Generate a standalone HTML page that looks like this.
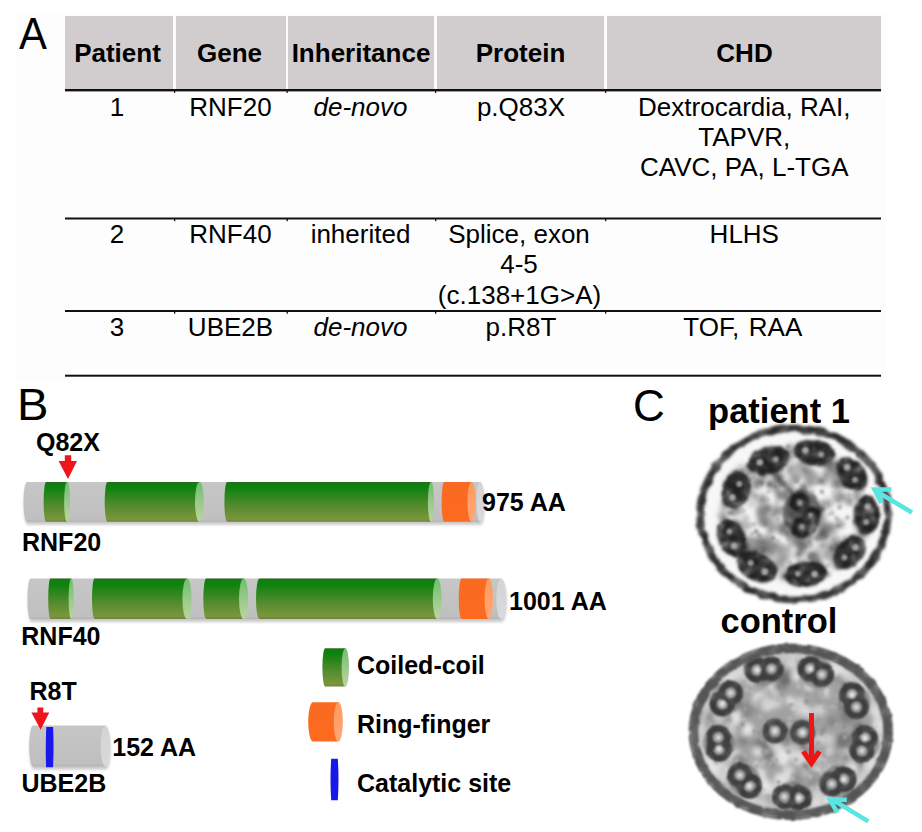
<!DOCTYPE html>
<html><head><meta charset="utf-8"><style>
html,body{margin:0;padding:0;background:#fff;}
body{width:922px;height:832px;overflow:hidden;position:relative;font-family:"Liberation Sans",sans-serif;}
svg{position:absolute;left:0;top:0;}
svg text{font-family:"Liberation Sans",sans-serif;fill:#000;}
.h{font-size:26px;font-weight:bold;text-anchor:middle;}
.t{font-size:26px;text-anchor:middle;}
.i{font-style:italic;}
.b{font-size:25px;font-weight:bold;}
.p{font-size:44px;}
.c{font-size:34.5px;font-weight:bold;text-anchor:middle;}
</style></head><body>
<svg width="922" height="832" viewBox="0 0 922 832">
<defs>
 <linearGradient id="gg" x1="0" y1="0" x2="0" y2="1">
  <stop offset="0" stop-color="#2a6a22"/><stop offset="0.06" stop-color="#0f7f10"/><stop offset="0.15" stop-color="#0e820e"/><stop offset="0.55" stop-color="#4d8a2c"/><stop offset="0.93" stop-color="#7a963a"/><stop offset="1" stop-color="#6c8443"/>
 </linearGradient>
 <linearGradient id="gc" x1="0" y1="0" x2="0" y2="1">
  <stop offset="0" stop-color="#6cc06a"/><stop offset="0.5" stop-color="#98c98c"/><stop offset="1" stop-color="#b9d79c"/>
 </linearGradient>
 <linearGradient id="gy" x1="0" y1="0" x2="0" y2="1">
  <stop offset="0" stop-color="#c6c6c7"/><stop offset="0.5" stop-color="#c3c3c4"/><stop offset="0.94" stop-color="#bfbfc0"/><stop offset="1" stop-color="#b4b4b5"/>
 </linearGradient>
 <linearGradient id="gyc" x1="0" y1="0" x2="0" y2="1">
  <stop offset="0" stop-color="#d4d4d6"/><stop offset="1" stop-color="#dadadc"/>
 </linearGradient>
 <linearGradient id="go" x1="0" y1="0" x2="0" y2="1">
  <stop offset="0" stop-color="#fb6a22"/><stop offset="1" stop-color="#fd6a20"/>
 </linearGradient>
 <linearGradient id="oc" x1="0" y1="0" x2="0" y2="1">
  <stop offset="0" stop-color="#ff9a5c"/><stop offset="1" stop-color="#ffa878"/>
 </linearGradient>
</defs>

<!-- ===== Panel A ===== -->
<rect x="16" y="13" width="870" height="368" fill="#fdfdfd"/>
<text class="p" x="18" y="49" style="font-size:44.5px" transform="translate(32.85 0) scale(0.94 1) translate(-32.85 0)">A</text>
<rect x="65" y="16" width="816" height="74" fill="#d1cdce"/>
<rect x="173" y="16" width="3" height="74" fill="#fbfbfb"/>
<rect x="286" y="16" width="2" height="74" fill="#fbfbfb"/>
<rect x="434" y="16" width="3" height="74" fill="#fbfbfb"/>
<rect x="604" y="16" width="3" height="74" fill="#fbfbfb"/>
<rect x="65" y="89" width="816" height="2.4" fill="#111"/>
<rect x="174" y="90" width="1.2" height="3" fill="#111"/>
<rect x="286.5" y="90" width="1.2" height="3" fill="#111"/>
<rect x="435" y="90" width="1.2" height="3" fill="#111"/>
<rect x="605" y="90" width="1.2" height="3" fill="#111"/>
<text class="h" x="117.5" y="61.5">Patient</text>
<text class="h" x="229.5" y="61.5">Gene</text>
<text class="h" x="361" y="61.5">Inheritance</text>
<text class="h" x="520.5" y="61.5">Protein</text>
<text class="h" x="744.5" y="61.5">CHD</text>

<text class="t" x="117" y="115.7">1</text>
<text class="t" x="230.5" y="115.7">RNF20</text>
<text class="t i" x="360.5" y="115.7">de-novo</text>
<text class="t" x="521" y="115.7">p.Q83X</text>
<text class="t" x="744.3" y="115.7">Dextrocardia, RAI,</text>
<text class="t" x="744.3" y="145.7">TAPVR,</text>
<text class="t" x="744.3" y="175.7">CAVC, PA, L-TGA</text>

<rect x="65" y="217.5" width="816" height="2" fill="#111"/><rect x="174" y="219" width="1.3" height="2.2" fill="#111"/><rect x="286.6" y="219" width="1.3" height="2.2" fill="#111"/><rect x="435" y="219" width="1.3" height="2.2" fill="#111"/><rect x="605" y="219" width="1.3" height="2.2" fill="#111"/>
<text class="t" x="117" y="243">2</text>
<text class="t" x="230.5" y="243">RNF40</text>
<text class="t" x="360.5" y="243">inherited</text>
<text class="t" x="519" y="243">Splice, exon</text>
<text class="t" x="519" y="273">4-5</text>
<text class="t" x="519.5" y="303.5">(c.138+1G&gt;A)</text>
<text class="t" x="744.3" y="243">HLHS</text>

<rect x="65" y="310" width="816" height="2" fill="#111"/><rect x="174" y="311.5" width="1.3" height="2.2" fill="#111"/><rect x="286.6" y="311.5" width="1.3" height="2.2" fill="#111"/><rect x="435" y="311.5" width="1.3" height="2.2" fill="#111"/><rect x="605" y="311.5" width="1.3" height="2.2" fill="#111"/>
<text class="t" x="117" y="335.5">3</text>
<text class="t" x="230.5" y="335.5">UBE2B</text>
<text class="t i" x="360.5" y="335.5">de-novo</text>
<text class="t" x="521" y="335.5">p.R8T</text>
<text class="t" x="683.3" y="335.5" style="text-anchor:start">TOF,</text><text class="t" x="748.8" y="335.5" style="text-anchor:start">RAA</text>

<rect x="65" y="374.7" width="816" height="2" fill="#111"/>

<!-- ===== Panel B ===== -->
<defs>
<filter id="shd" x="-10%" y="-50%" width="120%" height="200%"><feGaussianBlur stdDeviation="1.6"/></filter>
</defs>
<text class="p" x="18" y="420.3" style="font-size:44.5px" transform="translate(33.6 0) scale(1.06 1) translate(-33.6 0)">B</text>
<text class="b" x="36" y="451">Q82X</text>
<polygon points="64.8,455.3 71.2,455.3 71.2,461 77,461 68,479 58.6,461 64.8,461" fill="#f0141c"/>
<path d="M27,482 H480.2 A3.8,19.9 0 0 1 480.2,521.8 H27 A3.5,19.9 0 0 1 27,482 Z" fill="#000" opacity="0.22" filter="url(#shd)" transform="translate(0.5 3)"/>
<path d="M27,482 H480.2 V521.8 H27 A3.5,19.9 0 0 1 27,482 Z" fill="url(#gy)"/>
<ellipse cx="480.2" cy="501.9" rx="3.8" ry="19.9" fill="url(#gyc)"/>
<path d="M46.2,482 H67.1 V521.8 H46.2 A2.6,19.9 0 0 1 46.2,482 Z" fill="url(#gg)"/>
<ellipse cx="67.1" cy="501.9" rx="3" ry="19.9" fill="url(#gc)"/>
<path d="M107.5,482 H199.4 V521.8 H107.5 A2.8,19.9 0 0 1 107.5,482 Z" fill="url(#gg)"/>
<ellipse cx="199.4" cy="501.9" rx="4.4" ry="19.9" fill="url(#gc)"/>
<path d="M227.2,482 H431 V521.8 H227.2 A2.8,19.9 0 0 1 227.2,482 Z" fill="url(#gg)"/>
<ellipse cx="431" cy="501.9" rx="3.1" ry="19.9" fill="url(#gc)"/>
<path d="M444.3,482 H471.6 V521.8 H444.3 A2.7,19.9 0 0 1 444.3,482 Z" fill="url(#go)"/>
<ellipse cx="471.6" cy="501.9" rx="4.2" ry="19.9" fill="url(#oc)"/>
<text class="b" x="22" y="550.5">RNF20</text>
<text class="b" x="482" y="511">975 AA</text>
<path d="M30.5,578.5 H501.2 A4.9,20.2 0 0 1 501.2,618.9 H30.5 A3,20.2 0 0 1 30.5,578.5 Z" fill="#000" opacity="0.22" filter="url(#shd)" transform="translate(0.5 3)"/>
<path d="M30.5,578.5 H501.2 V618.9 H30.5 A3,20.2 0 0 1 30.5,578.5 Z" fill="url(#gy)"/>
<ellipse cx="501.2" cy="598.7" rx="4.9" ry="20.2" fill="url(#gyc)"/>
<path d="M50.5,578.5 H71.2 V618.9 H50.5 A2.3,20.2 0 0 1 50.5,578.5 Z" fill="url(#gg)"/>
<ellipse cx="71.2" cy="598.7" rx="2.6" ry="20.2" fill="url(#gc)"/>
<path d="M94.6,578.5 H187 V618.9 H94.6 A2.6,20.2 0 0 1 94.6,578.5 Z" fill="url(#gg)"/>
<ellipse cx="187" cy="598.7" rx="4.6" ry="20.2" fill="url(#gc)"/>
<path d="M206.3,578.5 H243.6 V618.9 H206.3 A3,20.2 0 0 1 206.3,578.5 Z" fill="url(#gg)"/>
<ellipse cx="243.6" cy="598.7" rx="4.6" ry="20.2" fill="url(#gc)"/>
<path d="M259.5,578.5 H437.2 V618.9 H259.5 A3.5,20.2 0 0 1 259.5,578.5 Z" fill="url(#gg)"/>
<ellipse cx="437.2" cy="598.7" rx="4.4" ry="20.2" fill="url(#gc)"/>
<path d="M461.6,578.5 H488.8 V618.9 H461.6 A2.9,20.2 0 0 1 461.6,578.5 Z" fill="url(#go)"/>
<ellipse cx="488.8" cy="598.7" rx="4.2" ry="20.2" fill="url(#oc)"/>
<text class="b" x="21.3" y="644.5">RNF40</text>
<text class="b" x="509" y="610">1001 AA</text>
<text class="b" x="29.5" y="700">R8T</text>
<path d="M33,725.5 H105.4 A4.6,20.45 0 0 1 105.4,766.4 H33 A3.8,20.45 0 0 1 33,725.5 Z" fill="#000" opacity="0.22" filter="url(#shd)" transform="translate(0.5 3)"/>
<path d="M33,725.5 H105.4 V766.4 H33 A3.8,20.45 0 0 1 33,725.5 Z" fill="url(#gy)"/>
<ellipse cx="105.4" cy="745.95" rx="4.6" ry="20.45" fill="url(#gyc)"/>
<path d="M46.3,726.9 Q45.3,747 46.1,767.3 H53 Q54,747 53.1,726.9 Z" fill="#1818ea"/>
<polygon points="37.4,707.4 43.3,707.4 43.3,712.5 49.3,712.5 40.6,729.8 31.4,712.5 37.4,712.5" fill="#f0141c"/>
<text class="b" x="112.3" y="756">152 AA</text>
<text class="b" x="21.5" y="791.5">UBE2B</text>
<path d="M325.2,648.2 H345.3 V686.5 H325.2 A2.8,19.15 0 0 1 325.2,648.2 Z" fill="url(#gg)"/>
<ellipse cx="345.3" cy="667.35" rx="3.7" ry="19.15" fill="url(#gc)"/>
<text class="b" x="357" y="673.5">Coiled-coil</text>
<path d="M313,702.2 H338.3 V741.4 H313 A4.8,19.6 0 0 1 313,702.2 Z" fill="url(#go)"/>
<ellipse cx="338.3" cy="721.8" rx="4.6" ry="19.6" fill="url(#oc)"/>
<text class="b" x="357" y="733">Ring-finger</text>
<path d="M331.2,758.7 Q329.8,779.5 331.2,800.2 H337.8 Q339.2,779.5 337.8,758.7 Z" fill="#1818ea"/>
<text class="b" x="357" y="791.5">Catalytic site</text>

<!-- ===== Panel C ===== -->
<text class="p" x="633" y="421">C</text>
<text class="c" x="779" y="422.6">patient 1</text>
<text class="c" x="779" y="633">control</text>

<!-- EM patient -->
<defs>
<clipPath id="clip1"><ellipse cx="794" cy="514" rx="92" ry="83.5"/></clipPath>
<clipPath id="clip2"><ellipse cx="790.8" cy="731.8" rx="96.5" ry="82.5"/></clipPath>
<filter id="bl1" x="-20%" y="-20%" width="140%" height="140%"><feGaussianBlur stdDeviation="1.3"/></filter>
<filter id="bl2" x="-20%" y="-20%" width="140%" height="140%"><feGaussianBlur stdDeviation="0.9"/></filter>
<filter id="bl3" x="-20%" y="-20%" width="140%" height="140%"><feGaussianBlur stdDeviation="3"/></filter>
<filter id="mo1" x="-10%" y="-10%" width="120%" height="120%"><feTurbulence type="fractalNoise" baseFrequency="0.12" numOctaves="2" seed="3" result="n"/><feDisplacementMap in="SourceGraphic" in2="n" scale="4" xChannelSelector="R" yChannelSelector="G" result="d"/><feColorMatrix in="n" type="matrix" values="0 0 0 0 0  0 0 0 0 0  0 0 0 0 0  0 0 1 0 0.4" result="na"/><feComposite in="d" in2="na" operator="in" result="m"/><feGaussianBlur in="m" stdDeviation="1.7"/></filter>
<filter id="mo2" x="-10%" y="-10%" width="120%" height="120%"><feTurbulence type="fractalNoise" baseFrequency="0.09" numOctaves="2" seed="8" result="n"/><feDisplacementMap in="SourceGraphic" in2="n" scale="6" xChannelSelector="R" yChannelSelector="G" result="d"/><feColorMatrix in="n" type="matrix" values="0 0 0 0 0  0 0 0 0 0  0 0 0 0 0  0 0 0.8 0 0.5" result="na"/><feComposite in="d" in2="na" operator="in" result="m"/><feGaussianBlur in="m" stdDeviation="1.4"/></filter>
<filter id="mo3" x="-10%" y="-10%" width="120%" height="120%"><feTurbulence type="fractalNoise" baseFrequency="0.12" numOctaves="2" seed="5" result="n"/><feDisplacementMap in="SourceGraphic" in2="n" scale="2.5" xChannelSelector="R" yChannelSelector="G" result="d"/><feColorMatrix in="n" type="matrix" values="0 0 0 0 0  0 0 0 0 0  0 0 0 0 0  0 0 0.9 0 0.5" result="na"/><feComposite in="d" in2="na" operator="in" result="m"/><feGaussianBlur in="m" stdDeviation="1.1"/></filter>
<filter id="mo4" x="-10%" y="-10%" width="120%" height="120%"><feTurbulence type="fractalNoise" baseFrequency="0.1" numOctaves="2" seed="12" result="n"/><feDisplacementMap in="SourceGraphic" in2="n" scale="3" xChannelSelector="R" yChannelSelector="G" result="d"/><feColorMatrix in="n" type="matrix" values="0 0 0 0 0  0 0 0 0 0  0 0 0 0 0  0 0 0.8 0 0.55" result="na"/><feComposite in="d" in2="na" operator="in" result="m"/><feGaussianBlur in="m" stdDeviation="1.3"/></filter>
<filter id="nz1" x="0" y="0" width="100%" height="100%"><feTurbulence type="fractalNoise" baseFrequency="0.075" numOctaves="3" seed="21"/><feColorMatrix type="matrix" values="0 0 0 0 0.2  0 0 0 0 0.2  0 0 0 0 0.2  3.2 0 0 0 -1.15"/><feGaussianBlur stdDeviation="1.2"/></filter>
<filter id="nz1b" x="0" y="0" width="100%" height="100%"><feTurbulence type="fractalNoise" baseFrequency="0.04" numOctaves="2" seed="5"/><feColorMatrix type="matrix" values="0 0 0 0 0.5  0 0 0 0 0.5  0 0 0 0 0.5  2.2 0 0 0 -0.9"/><feGaussianBlur stdDeviation="2"/></filter>
<filter id="nz2" x="0" y="0" width="100%" height="100%"><feTurbulence type="fractalNoise" baseFrequency="0.045" numOctaves="3" seed="13"/><feColorMatrix type="matrix" values="0 0 0 0 0.93  0 0 0 0 0.93  0 0 0 0 0.93  3.4 0 0 0 -1.4"/><feGaussianBlur stdDeviation="1.2"/></filter>
<filter id="nz3" x="0" y="0" width="100%" height="100%"><feTurbulence type="fractalNoise" baseFrequency="0.1" numOctaves="2" seed="3"/><feColorMatrix type="matrix" values="0 0 0 0 0.3  0 0 0 0 0.3  0 0 0 0 0.3  2.6 0 0 0 -1.1"/><feGaussianBlur stdDeviation="0.7"/></filter>
<filter id="blob2" x="-10%" y="-10%" width="120%" height="120%"><feGaussianBlur stdDeviation="1.5"/></filter>
<filter id="blob" x="-10%" y="-10%" width="120%" height="120%"><feGaussianBlur stdDeviation="2.4"/></filter>
</defs>
<g id="em1">
<ellipse cx="794" cy="514" rx="94" ry="85.5" fill="#f7f7f7"/>
<g clip-path="url(#clip1)">
<g filter="url(#blob)">
<circle cx="785.0" cy="524.2" r="4.3" fill="#737373" opacity="0.54"/>
<circle cx="789.4" cy="533.5" r="2.9" fill="#4f4f4f" opacity="0.37"/>
<circle cx="822.9" cy="533.8" r="5.0" fill="#4c4c4c" opacity="0.53"/>
<circle cx="846.3" cy="484.3" r="4.6" fill="#515151" opacity="0.47"/>
<circle cx="794.0" cy="541.8" r="5.1" fill="#727272" opacity="0.40"/>
<circle cx="828.8" cy="465.0" r="4.4" fill="#3e3e3e" opacity="0.57"/>
<circle cx="818.3" cy="561.6" r="3.8" fill="#5a5a5a" opacity="0.37"/>
<circle cx="787.4" cy="511.7" r="3.3" fill="#7f7f7f" opacity="0.43"/>
<circle cx="778.8" cy="494.1" r="4.2" fill="#6a6a6a" opacity="0.34"/>
<circle cx="851.0" cy="480.5" r="3.3" fill="#3a3a3a" opacity="0.40"/>
<circle cx="860.6" cy="538.3" r="2.7" fill="#444444" opacity="0.32"/>
<circle cx="814.7" cy="570.5" r="2.8" fill="#696969" opacity="0.31"/>
<circle cx="809.6" cy="470.1" r="4.0" fill="#676767" opacity="0.42"/>
<circle cx="808.0" cy="576.7" r="5.0" fill="#4f4f4f" opacity="0.37"/>
<circle cx="742.9" cy="532.9" r="3.1" fill="#505050" opacity="0.47"/>
<circle cx="804.1" cy="546.0" r="6.0" fill="#696969" opacity="0.46"/>
<circle cx="744.8" cy="549.0" r="4.2" fill="#585858" opacity="0.55"/>
<circle cx="792.3" cy="517.4" r="3.0" fill="#404040" opacity="0.42"/>
<circle cx="822.9" cy="533.8" r="3.6" fill="#414141" opacity="0.56"/>
<circle cx="750.6" cy="504.7" r="2.7" fill="#3f3f3f" opacity="0.36"/>
<circle cx="784.7" cy="485.1" r="4.8" fill="#7a7a7a" opacity="0.32"/>
<circle cx="819.6" cy="511.0" r="3.8" fill="#5f5f5f" opacity="0.58"/>
<circle cx="838.6" cy="548.8" r="3.9" fill="#636363" opacity="0.49"/>
<circle cx="778.4" cy="563.7" r="4.8" fill="#777777" opacity="0.47"/>
<circle cx="771.9" cy="528.1" r="2.8" fill="#414141" opacity="0.47"/>
<circle cx="809.2" cy="503.8" r="2.8" fill="#7d7d7d" opacity="0.51"/>
<circle cx="790.4" cy="467.9" r="4.5" fill="#464646" opacity="0.46"/>
<circle cx="827.5" cy="463.1" r="5.5" fill="#4d4d4d" opacity="0.38"/>
<circle cx="745.4" cy="497.7" r="3.3" fill="#585858" opacity="0.41"/>
<circle cx="809.6" cy="482.6" r="3.0" fill="#494949" opacity="0.39"/>
<circle cx="856.2" cy="493.9" r="4.5" fill="#7a7a7a" opacity="0.37"/>
<circle cx="807.3" cy="481.3" r="2.6" fill="#808080" opacity="0.32"/>
<circle cx="818.3" cy="504.8" r="5.1" fill="#7c7c7c" opacity="0.52"/>
<circle cx="737.5" cy="509.7" r="5.4" fill="#4e4e4e" opacity="0.51"/>
<circle cx="831.6" cy="466.8" r="6.2" fill="#6c6c6c" opacity="0.50"/>
<circle cx="724.4" cy="506.1" r="4.0" fill="#383838" opacity="0.45"/>
<circle cx="822.4" cy="463.5" r="3.4" fill="#474747" opacity="0.55"/>
<circle cx="800.9" cy="563.7" r="3.5" fill="#616161" opacity="0.50"/>
<circle cx="779.2" cy="475.6" r="3.4" fill="#3b3b3b" opacity="0.54"/>
<circle cx="800.2" cy="545.9" r="4.4" fill="#494949" opacity="0.58"/>
<circle cx="827.4" cy="503.8" r="5.5" fill="#434343" opacity="0.41"/>
<circle cx="805.0" cy="570.6" r="5.1" fill="#7f7f7f" opacity="0.44"/>
<circle cx="858.6" cy="524.3" r="5.2" fill="#5f5f5f" opacity="0.57"/>
<circle cx="863.6" cy="532.7" r="5.9" fill="#5e5e5e" opacity="0.57"/>
<circle cx="798.6" cy="526.5" r="4.1" fill="#515151" opacity="0.31"/>
<circle cx="776.0" cy="470.6" r="3.0" fill="#777777" opacity="0.41"/>
<circle cx="789.6" cy="482.7" r="4.2" fill="#505050" opacity="0.29"/>
<circle cx="748.9" cy="548.6" r="2.6" fill="#3a3a3a" opacity="0.33"/>
<circle cx="836.0" cy="470.3" r="2.9" fill="#777777" opacity="0.50"/>
<circle cx="723.1" cy="515.8" r="5.4" fill="#585858" opacity="0.49"/>
<circle cx="819.0" cy="569.6" r="4.7" fill="#4c4c4c" opacity="0.54"/>
<circle cx="800.4" cy="465.8" r="5.9" fill="#535353" opacity="0.46"/>
<circle cx="745.0" cy="552.7" r="4.1" fill="#595959" opacity="0.41"/>
<circle cx="832.5" cy="462.8" r="2.9" fill="#3a3a3a" opacity="0.45"/>
<circle cx="767.2" cy="568.9" r="3.0" fill="#666666" opacity="0.43"/>
<circle cx="803.7" cy="516.5" r="4.4" fill="#808080" opacity="0.34"/>
<circle cx="826.5" cy="527.6" r="6.3" fill="#494949" opacity="0.42"/>
<circle cx="843.8" cy="484.4" r="4.2" fill="#737373" opacity="0.39"/>
<circle cx="739.5" cy="492.3" r="5.9" fill="#3d3d3d" opacity="0.33"/>
<circle cx="785.3" cy="554.9" r="6.2" fill="#6b6b6b" opacity="0.46"/>
<circle cx="807.1" cy="461.2" r="5.7" fill="#636363" opacity="0.36"/>
<circle cx="844.2" cy="559.4" r="3.3" fill="#6b6b6b" opacity="0.34"/>
<circle cx="849.9" cy="480.1" r="2.5" fill="#444444" opacity="0.39"/>
<circle cx="820.1" cy="535.2" r="3.6" fill="#555555" opacity="0.57"/>
<circle cx="756.2" cy="465.4" r="4.8" fill="#6b6b6b" opacity="0.44"/>
<circle cx="820.7" cy="548.4" r="6.4" fill="#6a6a6a" opacity="0.29"/>
<circle cx="815.7" cy="554.8" r="4.3" fill="#585858" opacity="0.43"/>
<circle cx="843.1" cy="539.3" r="2.9" fill="#393939" opacity="0.36"/>
<circle cx="819.9" cy="566.9" r="4.7" fill="#414141" opacity="0.48"/>
<circle cx="801.9" cy="530.5" r="6.3" fill="#6e6e6e" opacity="0.41"/>
<circle cx="799.0" cy="530.7" r="4.6" fill="#666666" opacity="0.42"/>
<circle cx="824.8" cy="556.4" r="2.6" fill="#3b3b3b" opacity="0.35"/>
<circle cx="841.9" cy="495.2" r="2.7" fill="#6a6a6a" opacity="0.58"/>
<circle cx="745.8" cy="518.0" r="3.1" fill="#737373" opacity="0.57"/>
<circle cx="746.1" cy="549.3" r="5.0" fill="#3e3e3e" opacity="0.42"/>
<circle cx="799.3" cy="449.8" r="3.1" fill="#707070" opacity="0.41"/>
<circle cx="813.0" cy="537.9" r="4.0" fill="#6d6d6d" opacity="0.50"/>
<circle cx="790.4" cy="514.5" r="5.6" fill="#5f5f5f" opacity="0.47"/>
<circle cx="767.5" cy="474.9" r="5.3" fill="#808080" opacity="0.34"/>
<circle cx="752.4" cy="469.4" r="4.5" fill="#575757" opacity="0.48"/>
<circle cx="736.8" cy="545.3" r="2.5" fill="#3f3f3f" opacity="0.36"/>
<circle cx="741.8" cy="476.1" r="6.2" fill="#434343" opacity="0.33"/>
<circle cx="791.0" cy="489.1" r="3.9" fill="#636363" opacity="0.50"/>
<circle cx="817.3" cy="560.0" r="4.3" fill="#535353" opacity="0.50"/>
<circle cx="773.3" cy="454.3" r="5.1" fill="#4b4b4b" opacity="0.58"/>
<circle cx="761.2" cy="522.3" r="4.2" fill="#4f4f4f" opacity="0.39"/>
<circle cx="806.1" cy="511.4" r="3.7" fill="#737373" opacity="0.51"/>
<circle cx="757.1" cy="552.5" r="3.6" fill="#616161" opacity="0.32"/>
<circle cx="767.3" cy="552.6" r="6.1" fill="#666666" opacity="0.38"/>
<circle cx="782.9" cy="530.2" r="4.3" fill="#5b5b5b" opacity="0.52"/>
<circle cx="757.3" cy="482.8" r="6.4" fill="#6b6b6b" opacity="0.50"/>
<circle cx="827.3" cy="528.5" r="5.5" fill="#505050" opacity="0.39"/>
<circle cx="773.4" cy="455.0" r="3.2" fill="#808080" opacity="0.31"/>
<circle cx="785.4" cy="574.7" r="3.4" fill="#3a3a3a" opacity="0.30"/>
<circle cx="779.5" cy="528.0" r="5.7" fill="#5f5f5f" opacity="0.31"/>
<circle cx="819.2" cy="453.1" r="3.5" fill="#6e6e6e" opacity="0.35"/>
<circle cx="774.1" cy="486.3" r="5.2" fill="#626262" opacity="0.43"/>
<circle cx="801.0" cy="551.8" r="4.1" fill="#3d3d3d" opacity="0.53"/>
<circle cx="820.4" cy="518.1" r="5.7" fill="#393939" opacity="0.41"/>
<circle cx="779.0" cy="453.5" r="6.5" fill="#4c4c4c" opacity="0.39"/>
<circle cx="779.9" cy="478.4" r="4.4" fill="#3f3f3f" opacity="0.50"/>
<circle cx="790.4" cy="565.4" r="2.9" fill="#606060" opacity="0.34"/>
<circle cx="740.9" cy="468.8" r="4.9" fill="#747474" opacity="0.35"/>
<circle cx="734.8" cy="476.6" r="6.1" fill="#4e4e4e" opacity="0.56"/>
<circle cx="803.5" cy="574.4" r="6.0" fill="#767676" opacity="0.55"/>
<circle cx="764.3" cy="522.1" r="4.4" fill="#434343" opacity="0.35"/>
<circle cx="797.0" cy="475.4" r="5.1" fill="#3f3f3f" opacity="0.35"/>
<circle cx="769.9" cy="564.7" r="4.9" fill="#6d6d6d" opacity="0.33"/>
<circle cx="729.5" cy="483.5" r="6.1" fill="#595959" opacity="0.52"/>
<circle cx="816.5" cy="516.7" r="3.1" fill="#3e3e3e" opacity="0.51"/>
<circle cx="790.3" cy="508.6" r="5.9" fill="#7d7d7d" opacity="0.37"/>
<circle cx="848.4" cy="499.8" r="5.6" fill="#434343" opacity="0.41"/>
<circle cx="776.2" cy="523.6" r="5.2" fill="#737373" opacity="0.30"/>
<circle cx="825.5" cy="544.1" r="5.1" fill="#474747" opacity="0.28"/>
<circle cx="770.9" cy="549.9" r="3.7" fill="#565656" opacity="0.31"/>
<circle cx="841.9" cy="523.5" r="3.5" fill="#434343" opacity="0.34"/>
<circle cx="837.5" cy="484.8" r="4.8" fill="#5b5b5b" opacity="0.50"/>
<circle cx="762.4" cy="569.9" r="2.9" fill="#434343" opacity="0.47"/>
<circle cx="781.6" cy="560.4" r="6.2" fill="#636363" opacity="0.41"/>
<circle cx="796.2" cy="539.2" r="5.8" fill="#4a4a4a" opacity="0.40"/>
<circle cx="762.3" cy="499.0" r="5.4" fill="#393939" opacity="0.46"/>
<circle cx="759.7" cy="563.4" r="5.1" fill="#575757" opacity="0.46"/>
<circle cx="764.3" cy="539.8" r="4.7" fill="#454545" opacity="0.34"/>
<circle cx="762.6" cy="478.7" r="4.9" fill="#454545" opacity="0.33"/>
<circle cx="803.1" cy="488.8" r="4.6" fill="#787878" opacity="0.45"/>
<circle cx="789.8" cy="499.9" r="3.8" fill="#626262" opacity="0.56"/>
<circle cx="767.9" cy="507.7" r="4.3" fill="#474747" opacity="0.50"/>
<circle cx="744.9" cy="525.9" r="4.7" fill="#7d7d7d" opacity="0.45"/>
<circle cx="855.0" cy="477.8" r="3.5" fill="#666666" opacity="0.45"/>
<circle cx="823.8" cy="481.1" r="5.0" fill="#686868" opacity="0.47"/>
<circle cx="799.2" cy="448.7" r="3.2" fill="#6b6b6b" opacity="0.44"/>
<circle cx="749.6" cy="525.6" r="2.7" fill="#626262" opacity="0.52"/>
<circle cx="835.7" cy="563.2" r="6.3" fill="#6b6b6b" opacity="0.46"/>
<circle cx="788.3" cy="498.9" r="5.5" fill="#808080" opacity="0.51"/>
<circle cx="776.9" cy="502.7" r="3.0" fill="#808080" opacity="0.56"/>
<circle cx="762.1" cy="517.5" r="6.1" fill="#6d6d6d" opacity="0.38"/>
<circle cx="812.3" cy="557.1" r="6.0" fill="#5f5f5f" opacity="0.54"/>
<circle cx="802.5" cy="540.8" r="6.0" fill="#565656" opacity="0.58"/>
<circle cx="769.3" cy="521.9" r="5.7" fill="#808080" opacity="0.35"/>
<circle cx="840.4" cy="525.4" r="2.9" fill="#414141" opacity="0.52"/>
<circle cx="723.3" cy="520.4" r="2.5" fill="#727272" opacity="0.35"/>
<circle cx="756.3" cy="484.0" r="4.3" fill="#404040" opacity="0.42"/>
<circle cx="799.7" cy="452.7" r="2.7" fill="#555555" opacity="0.29"/>
<circle cx="738.8" cy="479.0" r="3.3" fill="#3f3f3f" opacity="0.53"/>
<circle cx="766.6" cy="509.3" r="5.0" fill="#4e4e4e" opacity="0.49"/>
<circle cx="805.2" cy="519.7" r="3.3" fill="#565656" opacity="0.54"/>
<circle cx="836.4" cy="482.0" r="6.0" fill="#5b5b5b" opacity="0.49"/>
<circle cx="757.7" cy="550.0" r="3.6" fill="#515151" opacity="0.50"/>
<circle cx="794.3" cy="479.0" r="4.0" fill="#5a5a5a" opacity="0.48"/>
<circle cx="743.1" cy="480.0" r="5.2" fill="#4f4f4f" opacity="0.36"/>
<circle cx="799.3" cy="519.3" r="2.5" fill="#3d3d3d" opacity="0.46"/>
<circle cx="801.0" cy="500.9" r="2.8" fill="#808080" opacity="0.37"/>
<circle cx="842.1" cy="470.5" r="5.4" fill="#5b5b5b" opacity="0.29"/>
<circle cx="760.3" cy="511.2" r="4.6" fill="#3c3c3c" opacity="0.43"/>
<circle cx="731.1" cy="532.5" r="5.2" fill="#565656" opacity="0.44"/>
<circle cx="748.2" cy="551.0" r="3.5" fill="#565656" opacity="0.44"/>
<circle cx="860.3" cy="531.7" r="2.6" fill="#595959" opacity="0.46"/>
<circle cx="834.4" cy="526.4" r="3.8" fill="#4f4f4f" opacity="0.46"/>
<circle cx="814.4" cy="566.4" r="4.3" fill="#787878" opacity="0.36"/>
<circle cx="802.1" cy="563.9" r="5.0" fill="#565656" opacity="0.30"/>
<circle cx="780.0" cy="547.5" r="5.6" fill="#7b7b7b" opacity="0.51"/>
<circle cx="793.7" cy="539.7" r="3.2" fill="#797979" opacity="0.36"/>
<circle cx="730.0" cy="546.6" r="2.7" fill="#727272" opacity="0.40"/>
<circle cx="768.5" cy="465.5" r="3.0" fill="#3d3d3d" opacity="0.51"/>
<circle cx="812.9" cy="451.5" r="4.6" fill="#727272" opacity="0.58"/>
<circle cx="804.5" cy="509.2" r="6.4" fill="#414141" opacity="0.48"/>
<circle cx="815.1" cy="479.1" r="4.7" fill="#474747" opacity="0.35"/>
<circle cx="768.4" cy="486.1" r="2.7" fill="#535353" opacity="0.40"/>
<circle cx="764.5" cy="547.3" r="4.4" fill="#4e4e4e" opacity="0.40"/>
<circle cx="858.5" cy="493.7" r="3.4" fill="#3e3e3e" opacity="0.38"/>
<circle cx="734.5" cy="522.5" r="4.4" fill="#4c4c4c" opacity="0.40"/>
<circle cx="811.7" cy="558.4" r="4.3" fill="#747474" opacity="0.58"/>
<circle cx="738.5" cy="494.0" r="2.7" fill="#414141" opacity="0.36"/>
<circle cx="797.6" cy="555.3" r="4.1" fill="#797979" opacity="0.56"/>
<circle cx="834.5" cy="474.4" r="2.7" fill="#666666" opacity="0.50"/>
<circle cx="857.7" cy="505.4" r="3.8" fill="#686868" opacity="0.51"/>
<circle cx="774.1" cy="469.2" r="3.3" fill="#3d3d3d" opacity="0.43"/>
<circle cx="777.2" cy="510.3" r="4.6" fill="#494949" opacity="0.44"/>
<circle cx="759.0" cy="505.7" r="3.1" fill="#686868" opacity="0.34"/>
<circle cx="752.7" cy="550.4" r="3.0" fill="#6b6b6b" opacity="0.44"/>
<circle cx="769.6" cy="533.0" r="2.7" fill="#494949" opacity="0.29"/>
<circle cx="818.5" cy="525.3" r="5.1" fill="#5e5e5e" opacity="0.30"/>
<circle cx="860.4" cy="523.9" r="5.2" fill="#656565" opacity="0.57"/>
<circle cx="780.4" cy="495.6" r="4.5" fill="#3f3f3f" opacity="0.56"/>
<circle cx="753.5" cy="548.8" r="3.1" fill="#545454" opacity="0.40"/>
<circle cx="789.3" cy="457.0" r="4.6" fill="#565656" opacity="0.50"/>
<circle cx="789.9" cy="472.4" r="3.7" fill="#7e7e7e" opacity="0.55"/>
<circle cx="751.1" cy="493.0" r="4.4" fill="#5e5e5e" opacity="0.38"/>
<circle cx="806.4" cy="473.3" r="5.1" fill="#4f4f4f" opacity="0.40"/>
<circle cx="772.4" cy="566.0" r="3.6" fill="#787878" opacity="0.43"/>
<circle cx="813.8" cy="474.6" r="5.2" fill="#595959" opacity="0.35"/>
<circle cx="774.1" cy="469.4" r="5.9" fill="#777777" opacity="0.51"/>
<circle cx="849.8" cy="473.7" r="6.0" fill="#454545" opacity="0.37"/>
<circle cx="834.6" cy="547.4" r="6.4" fill="#4c4c4c" opacity="0.53"/>
<circle cx="730.0" cy="534.8" r="5.7" fill="#767676" opacity="0.37"/>
<circle cx="778.0" cy="491.2" r="4.5" fill="#7c7c7c" opacity="0.47"/>
<circle cx="768.1" cy="549.3" r="5.5" fill="#797979" opacity="0.54"/>
<circle cx="859.6" cy="516.1" r="2.7" fill="#757575" opacity="0.47"/>
<circle cx="777.6" cy="510.9" r="3.5" fill="#646464" opacity="0.43"/>
<circle cx="747.3" cy="550.9" r="3.2" fill="#616161" opacity="0.54"/>
<circle cx="738.5" cy="524.9" r="4.8" fill="#484848" opacity="0.41"/>
<circle cx="832.9" cy="535.0" r="5.7" fill="#5a5a5a" opacity="0.32"/>
<circle cx="770.9" cy="543.0" r="5.1" fill="#555555" opacity="0.57"/>
<circle cx="788.7" cy="547.1" r="3.6" fill="#494949" opacity="0.36"/>
<circle cx="747.4" cy="542.3" r="6.2" fill="#696969" opacity="0.58"/>
<circle cx="753.8" cy="553.5" r="4.1" fill="#474747" opacity="0.55"/>
<circle cx="782.5" cy="577.2" r="3.4" fill="#5c5c5c" opacity="0.50"/>
<circle cx="776.7" cy="452.8" r="5.2" fill="#696969" opacity="0.34"/>
<circle cx="783.1" cy="571.1" r="6.2" fill="#7f7f7f" opacity="0.36"/>
<circle cx="791.8" cy="449.1" r="6.0" fill="#616161" opacity="0.36"/>
<circle cx="806.9" cy="475.3" r="3.6" fill="#6b6b6b" opacity="0.35"/>
<circle cx="790.7" cy="491.1" r="4.7" fill="#595959" opacity="0.33"/>
<circle cx="766.1" cy="524.2" r="2.7" fill="#7f7f7f" opacity="0.45"/>
<circle cx="823.5" cy="535.0" r="3.3" fill="#5b5b5b" opacity="0.37"/>
<circle cx="826.9" cy="474.8" r="5.5" fill="#3b3b3b" opacity="0.37"/>
<circle cx="838.3" cy="496.8" r="6.2" fill="#444444" opacity="0.42"/>
<circle cx="857.9" cy="498.4" r="2.5" fill="#3b3b3b" opacity="0.32"/>
<circle cx="760.8" cy="552.4" r="5.1" fill="#787878" opacity="0.52"/>
<circle cx="768.6" cy="537.6" r="3.7" fill="#656565" opacity="0.30"/>
<circle cx="822.8" cy="530.1" r="3.8" fill="#595959" opacity="0.50"/>
<circle cx="739.7" cy="555.6" r="3.7" fill="#7d7d7d" opacity="0.34"/>
<circle cx="765.3" cy="455.1" r="3.9" fill="#676767" opacity="0.41"/>
<circle cx="775.8" cy="483.5" r="5.9" fill="#7c7c7c" opacity="0.51"/>
<circle cx="808.8" cy="483.5" r="6.4" fill="#747474" opacity="0.35"/>
<circle cx="776.7" cy="549.2" r="5.8" fill="#4e4e4e" opacity="0.30"/>
<circle cx="837.3" cy="541.8" r="3.3" fill="#3f3f3f" opacity="0.46"/>
<circle cx="818.2" cy="514.8" r="6.2" fill="#808080" opacity="0.32"/>
<circle cx="838.9" cy="555.7" r="5.2" fill="#6f6f6f" opacity="0.41"/>
<circle cx="772.3" cy="467.8" r="4.8" fill="#7d7d7d" opacity="0.43"/>
<circle cx="784.0" cy="530.0" r="6.2" fill="#3e3e3e" opacity="0.33"/>
<circle cx="838.7" cy="482.0" r="6.5" fill="#747474" opacity="0.40"/>
<circle cx="833.8" cy="471.4" r="4.3" fill="#646464" opacity="0.44"/>
<circle cx="752.6" cy="538.6" r="2.9" fill="#414141" opacity="0.41"/>
<circle cx="733.6" cy="485.6" r="6.3" fill="#646464" opacity="0.35"/>
<circle cx="754.2" cy="499.6" r="2.6" fill="#696969" opacity="0.48"/>
<circle cx="787.5" cy="512.1" r="6.5" fill="#434343" opacity="0.34"/>
<circle cx="836.8" cy="462.2" r="4.0" fill="#6f6f6f" opacity="0.52"/>
<circle cx="752.3" cy="472.7" r="4.9" fill="#646464" opacity="0.39"/>
<circle cx="830.0" cy="554.4" r="6.0" fill="#666666" opacity="0.51"/>
<circle cx="750.0" cy="492.6" r="3.6" fill="#6c6c6c" opacity="0.32"/>
<circle cx="796.6" cy="500.0" r="4.8" fill="#777777" opacity="0.37"/>
<circle cx="772.9" cy="555.6" r="4.3" fill="#545454" opacity="0.30"/>
<circle cx="778.8" cy="476.6" r="5.1" fill="#707070" opacity="0.36"/>
<circle cx="770.5" cy="530.0" r="4.1" fill="#585858" opacity="0.36"/>
<circle cx="825.6" cy="455.1" r="3.9" fill="#414141" opacity="0.42"/>
<circle cx="759.4" cy="543.2" r="6.4" fill="#3f3f3f" opacity="0.57"/>
<circle cx="855.8" cy="539.6" r="6.5" fill="#464646" opacity="0.30"/>
<circle cx="786.9" cy="497.1" r="4.6" fill="#535353" opacity="0.46"/>
<circle cx="793.5" cy="570.5" r="4.1" fill="#797979" opacity="0.50"/>
<circle cx="822.0" cy="535.0" r="5.2" fill="#585858" opacity="0.57"/>
<circle cx="789.1" cy="579.7" r="4.4" fill="#6f6f6f" opacity="0.28"/>
<circle cx="766.0" cy="520.1" r="6.4" fill="#7c7c7c" opacity="0.51"/>
<circle cx="744.7" cy="541.8" r="4.5" fill="#797979" opacity="0.37"/>
<circle cx="846.2" cy="470.7" r="4.4" fill="#6c6c6c" opacity="0.58"/>
<circle cx="810.7" cy="457.6" r="4.3" fill="#454545" opacity="0.54"/>
<circle cx="798.7" cy="498.0" r="4.2" fill="#474747" opacity="0.28"/>
<circle cx="838.1" cy="550.4" r="3.7" fill="#4c4c4c" opacity="0.47"/>
<circle cx="776.1" cy="512.9" r="5.1" fill="#7d7d7d" opacity="0.53"/>
<circle cx="761.8" cy="512.1" r="6.3" fill="#7f7f7f" opacity="0.45"/>
<circle cx="774.2" cy="479.7" r="3.4" fill="#595959" opacity="0.31"/>
</g>
<g filter="url(#blob2)">
<circle cx="848.8" cy="494.3" r="2.0" fill="#838383" opacity="0.44"/>
<circle cx="802.9" cy="496.9" r="2.4" fill="#4c4c4c" opacity="0.51"/>
<circle cx="799.0" cy="553.9" r="1.9" fill="#5f5f5f" opacity="0.59"/>
<circle cx="812.4" cy="491.6" r="1.6" fill="#565656" opacity="0.53"/>
<circle cx="764.8" cy="574.8" r="1.7" fill="#4b4b4b" opacity="0.38"/>
<circle cx="849.6" cy="501.3" r="1.9" fill="#5f5f5f" opacity="0.39"/>
<circle cx="761.7" cy="482.8" r="2.6" fill="#434343" opacity="0.49"/>
<circle cx="838.5" cy="500.0" r="2.3" fill="#868686" opacity="0.57"/>
<circle cx="827.3" cy="565.5" r="1.8" fill="#686868" opacity="0.52"/>
<circle cx="856.8" cy="542.4" r="2.5" fill="#767676" opacity="0.51"/>
<circle cx="774.7" cy="546.6" r="2.2" fill="#838383" opacity="0.58"/>
<circle cx="739.7" cy="499.4" r="1.5" fill="#747474" opacity="0.58"/>
<circle cx="832.1" cy="513.0" r="2.4" fill="#676767" opacity="0.42"/>
<circle cx="810.1" cy="463.1" r="2.7" fill="#5c5c5c" opacity="0.50"/>
<circle cx="770.9" cy="565.8" r="1.9" fill="#878787" opacity="0.47"/>
<circle cx="858.4" cy="489.8" r="1.5" fill="#7a7a7a" opacity="0.51"/>
<circle cx="792.0" cy="536.6" r="2.5" fill="#5c5c5c" opacity="0.47"/>
<circle cx="855.1" cy="493.1" r="1.6" fill="#8b8b8b" opacity="0.57"/>
<circle cx="777.8" cy="519.3" r="2.1" fill="#616161" opacity="0.37"/>
<circle cx="757.6" cy="573.4" r="3.0" fill="#343434" opacity="0.41"/>
<circle cx="730.0" cy="512.3" r="1.5" fill="#6e6e6e" opacity="0.59"/>
<circle cx="800.6" cy="532.8" r="1.5" fill="#3f3f3f" opacity="0.36"/>
<circle cx="769.3" cy="484.0" r="2.9" fill="#3d3d3d" opacity="0.52"/>
<circle cx="836.7" cy="473.8" r="1.8" fill="#4f4f4f" opacity="0.35"/>
<circle cx="753.9" cy="524.4" r="2.1" fill="#515151" opacity="0.38"/>
<circle cx="753.6" cy="476.0" r="1.5" fill="#717171" opacity="0.42"/>
<circle cx="854.5" cy="521.6" r="2.3" fill="#404040" opacity="0.46"/>
<circle cx="838.0" cy="519.9" r="2.5" fill="#848484" opacity="0.48"/>
<circle cx="820.0" cy="480.9" r="2.9" fill="#666666" opacity="0.41"/>
<circle cx="848.0" cy="468.4" r="2.4" fill="#696969" opacity="0.40"/>
<circle cx="740.6" cy="538.0" r="2.2" fill="#525252" opacity="0.40"/>
<circle cx="806.3" cy="449.0" r="1.8" fill="#5f5f5f" opacity="0.56"/>
<circle cx="847.5" cy="517.6" r="2.0" fill="#393939" opacity="0.50"/>
<circle cx="748.1" cy="466.0" r="2.9" fill="#525252" opacity="0.59"/>
<circle cx="811.0" cy="545.8" r="2.8" fill="#7e7e7e" opacity="0.39"/>
<circle cx="777.9" cy="454.0" r="2.4" fill="#474747" opacity="0.46"/>
<circle cx="809.1" cy="558.0" r="1.2" fill="#3a3a3a" opacity="0.32"/>
<circle cx="856.7" cy="498.2" r="1.6" fill="#5a5a5a" opacity="0.42"/>
<circle cx="835.9" cy="517.6" r="2.0" fill="#5d5d5d" opacity="0.37"/>
<circle cx="790.1" cy="562.5" r="1.5" fill="#5a5a5a" opacity="0.50"/>
<circle cx="814.7" cy="530.3" r="1.7" fill="#797979" opacity="0.56"/>
<circle cx="756.7" cy="484.9" r="1.6" fill="#8c8c8c" opacity="0.31"/>
<circle cx="828.7" cy="514.6" r="1.6" fill="#686868" opacity="0.42"/>
<circle cx="847.1" cy="486.3" r="1.9" fill="#4a4a4a" opacity="0.39"/>
<circle cx="811.5" cy="555.3" r="3.0" fill="#6c6c6c" opacity="0.57"/>
<circle cx="730.1" cy="512.8" r="2.9" fill="#4c4c4c" opacity="0.40"/>
<circle cx="785.3" cy="492.2" r="2.9" fill="#3f3f3f" opacity="0.34"/>
<circle cx="836.4" cy="544.2" r="1.8" fill="#3f3f3f" opacity="0.35"/>
<circle cx="723.1" cy="518.6" r="2.7" fill="#757575" opacity="0.43"/>
<circle cx="851.1" cy="473.3" r="1.3" fill="#3b3b3b" opacity="0.37"/>
<circle cx="794.7" cy="455.9" r="2.3" fill="#5a5a5a" opacity="0.33"/>
<circle cx="790.9" cy="581.2" r="2.0" fill="#7c7c7c" opacity="0.48"/>
<circle cx="859.0" cy="508.0" r="1.5" fill="#484848" opacity="0.44"/>
<circle cx="827.6" cy="503.6" r="1.9" fill="#7a7a7a" opacity="0.32"/>
<circle cx="838.4" cy="464.7" r="1.2" fill="#323232" opacity="0.43"/>
<circle cx="764.3" cy="456.9" r="1.8" fill="#353535" opacity="0.55"/>
<circle cx="805.6" cy="546.1" r="2.3" fill="#505050" opacity="0.40"/>
<circle cx="809.2" cy="499.8" r="2.3" fill="#757575" opacity="0.38"/>
<circle cx="827.4" cy="534.8" r="1.5" fill="#848484" opacity="0.45"/>
<circle cx="732.1" cy="552.2" r="2.2" fill="#4e4e4e" opacity="0.42"/>
<circle cx="832.0" cy="486.6" r="1.4" fill="#818181" opacity="0.51"/>
<circle cx="765.3" cy="524.1" r="2.5" fill="#6f6f6f" opacity="0.54"/>
<circle cx="822.3" cy="545.7" r="2.1" fill="#848484" opacity="0.38"/>
<circle cx="808.0" cy="536.6" r="1.3" fill="#6b6b6b" opacity="0.40"/>
<circle cx="809.6" cy="496.7" r="1.7" fill="#353535" opacity="0.57"/>
<circle cx="794.7" cy="501.4" r="1.3" fill="#777777" opacity="0.32"/>
<circle cx="759.4" cy="542.3" r="1.8" fill="#707070" opacity="0.36"/>
<circle cx="849.9" cy="550.2" r="2.6" fill="#565656" opacity="0.35"/>
<circle cx="853.2" cy="480.4" r="1.3" fill="#4f4f4f" opacity="0.54"/>
<circle cx="788.5" cy="538.6" r="2.8" fill="#868686" opacity="0.58"/>
<circle cx="758.4" cy="460.3" r="2.6" fill="#888888" opacity="0.38"/>
<circle cx="833.1" cy="539.5" r="2.5" fill="#8f8f8f" opacity="0.32"/>
<circle cx="820.2" cy="512.6" r="2.5" fill="#616161" opacity="0.31"/>
<circle cx="866.1" cy="514.0" r="1.6" fill="#4d4d4d" opacity="0.49"/>
<circle cx="781.1" cy="508.3" r="1.5" fill="#888888" opacity="0.49"/>
<circle cx="762.7" cy="476.3" r="3.0" fill="#727272" opacity="0.32"/>
<circle cx="798.9" cy="477.8" r="1.9" fill="#7a7a7a" opacity="0.43"/>
<circle cx="774.9" cy="486.6" r="1.7" fill="#5d5d5d" opacity="0.56"/>
<circle cx="861.1" cy="519.4" r="1.9" fill="#4b4b4b" opacity="0.37"/>
<circle cx="722.9" cy="502.5" r="1.9" fill="#878787" opacity="0.49"/>
<circle cx="810.2" cy="500.3" r="2.1" fill="#313131" opacity="0.36"/>
<circle cx="728.3" cy="522.8" r="2.6" fill="#525252" opacity="0.48"/>
<circle cx="736.4" cy="471.7" r="2.2" fill="#373737" opacity="0.30"/>
<circle cx="787.4" cy="533.7" r="3.0" fill="#404040" opacity="0.45"/>
<circle cx="847.5" cy="470.4" r="1.6" fill="#838383" opacity="0.56"/>
<circle cx="806.0" cy="470.4" r="2.1" fill="#797979" opacity="0.31"/>
<circle cx="788.1" cy="446.6" r="2.7" fill="#4f4f4f" opacity="0.45"/>
<circle cx="810.5" cy="482.5" r="1.4" fill="#818181" opacity="0.39"/>
<circle cx="795.7" cy="498.7" r="2.8" fill="#636363" opacity="0.36"/>
<circle cx="750.3" cy="463.9" r="2.0" fill="#848484" opacity="0.44"/>
<circle cx="759.3" cy="535.2" r="2.8" fill="#646464" opacity="0.49"/>
<circle cx="817.6" cy="522.6" r="1.9" fill="#848484" opacity="0.57"/>
<circle cx="775.5" cy="543.3" r="1.6" fill="#8e8e8e" opacity="0.37"/>
<circle cx="813.6" cy="530.8" r="2.0" fill="#858585" opacity="0.36"/>
<circle cx="756.1" cy="531.2" r="2.2" fill="#3a3a3a" opacity="0.59"/>
<circle cx="764.2" cy="550.2" r="2.7" fill="#323232" opacity="0.40"/>
<circle cx="771.4" cy="576.2" r="3.0" fill="#565656" opacity="0.36"/>
<circle cx="809.6" cy="568.9" r="1.9" fill="#838383" opacity="0.48"/>
<circle cx="833.9" cy="558.8" r="1.9" fill="#8f8f8f" opacity="0.44"/>
<circle cx="748.2" cy="545.0" r="2.2" fill="#646464" opacity="0.60"/>
<circle cx="761.1" cy="552.7" r="1.7" fill="#323232" opacity="0.47"/>
<circle cx="799.3" cy="513.2" r="2.9" fill="#454545" opacity="0.54"/>
<circle cx="793.0" cy="511.8" r="2.4" fill="#656565" opacity="0.33"/>
<circle cx="804.8" cy="503.7" r="2.9" fill="#323232" opacity="0.41"/>
<circle cx="756.5" cy="546.8" r="1.9" fill="#888888" opacity="0.36"/>
<circle cx="808.7" cy="516.3" r="1.9" fill="#757575" opacity="0.50"/>
<circle cx="727.9" cy="481.7" r="1.6" fill="#7e7e7e" opacity="0.35"/>
<circle cx="849.3" cy="554.9" r="1.2" fill="#515151" opacity="0.32"/>
<circle cx="809.5" cy="542.3" r="2.7" fill="#555555" opacity="0.36"/>
<circle cx="832.2" cy="548.1" r="2.7" fill="#5b5b5b" opacity="0.57"/>
<circle cx="848.2" cy="476.6" r="3.0" fill="#707070" opacity="0.37"/>
<circle cx="741.9" cy="534.5" r="2.4" fill="#434343" opacity="0.58"/>
<circle cx="811.4" cy="559.1" r="1.8" fill="#6c6c6c" opacity="0.51"/>
<circle cx="768.5" cy="467.6" r="2.4" fill="#8b8b8b" opacity="0.56"/>
<circle cx="840.2" cy="559.6" r="2.2" fill="#878787" opacity="0.47"/>
<circle cx="812.8" cy="576.0" r="2.6" fill="#383838" opacity="0.43"/>
<circle cx="728.7" cy="544.5" r="2.0" fill="#363636" opacity="0.39"/>
<circle cx="805.5" cy="489.4" r="1.2" fill="#5e5e5e" opacity="0.58"/>
<circle cx="768.5" cy="499.7" r="1.7" fill="#464646" opacity="0.33"/>
<circle cx="859.1" cy="508.7" r="1.5" fill="#717171" opacity="0.46"/>
<circle cx="850.3" cy="504.5" r="2.1" fill="#8b8b8b" opacity="0.42"/>
<circle cx="773.3" cy="514.7" r="2.0" fill="#6b6b6b" opacity="0.47"/>
<circle cx="755.7" cy="495.5" r="2.6" fill="#828282" opacity="0.49"/>
<circle cx="753.7" cy="461.2" r="2.4" fill="#777777" opacity="0.51"/>
<circle cx="840.0" cy="506.2" r="2.1" fill="#626262" opacity="0.37"/>
<circle cx="809.1" cy="540.4" r="1.3" fill="#484848" opacity="0.37"/>
<circle cx="796.8" cy="481.5" r="2.1" fill="#555555" opacity="0.60"/>
<circle cx="773.2" cy="537.9" r="2.0" fill="#3e3e3e" opacity="0.60"/>
<circle cx="840.0" cy="469.9" r="1.6" fill="#6f6f6f" opacity="0.43"/>
<circle cx="802.2" cy="486.1" r="2.9" fill="#797979" opacity="0.48"/>
<circle cx="745.6" cy="481.7" r="2.9" fill="#464646" opacity="0.47"/>
<circle cx="749.3" cy="567.8" r="1.6" fill="#8c8c8c" opacity="0.35"/>
<circle cx="764.6" cy="552.7" r="1.5" fill="#8b8b8b" opacity="0.36"/>
<circle cx="760.4" cy="472.8" r="1.5" fill="#8e8e8e" opacity="0.49"/>
<circle cx="772.0" cy="569.3" r="1.9" fill="#505050" opacity="0.49"/>
<circle cx="778.1" cy="540.5" r="1.6" fill="#343434" opacity="0.38"/>
<circle cx="744.6" cy="478.1" r="2.5" fill="#858585" opacity="0.59"/>
<circle cx="825.9" cy="535.9" r="2.9" fill="#616161" opacity="0.40"/>
<circle cx="810.6" cy="449.4" r="1.3" fill="#505050" opacity="0.31"/>
<circle cx="762.0" cy="453.9" r="2.4" fill="#7b7b7b" opacity="0.48"/>
<circle cx="823.7" cy="538.7" r="1.6" fill="#808080" opacity="0.36"/>
<circle cx="735.6" cy="508.5" r="2.3" fill="#676767" opacity="0.52"/>
<circle cx="843.1" cy="552.0" r="1.8" fill="#363636" opacity="0.32"/>
<circle cx="752.0" cy="533.7" r="1.6" fill="#333333" opacity="0.49"/>
<circle cx="726.1" cy="487.0" r="2.3" fill="#343434" opacity="0.37"/>
<circle cx="733.8" cy="505.5" r="1.6" fill="#676767" opacity="0.49"/>
<circle cx="800.7" cy="492.7" r="1.9" fill="#434343" opacity="0.52"/>
<circle cx="754.5" cy="477.4" r="1.4" fill="#858585" opacity="0.42"/>
<circle cx="833.1" cy="492.1" r="1.4" fill="#8a8a8a" opacity="0.50"/>
<circle cx="749.6" cy="479.3" r="2.6" fill="#4f4f4f" opacity="0.54"/>
<circle cx="734.9" cy="495.8" r="2.6" fill="#5b5b5b" opacity="0.33"/>
<circle cx="862.8" cy="490.4" r="2.4" fill="#7d7d7d" opacity="0.47"/>
<circle cx="752.1" cy="468.5" r="2.4" fill="#6d6d6d" opacity="0.59"/>
<circle cx="727.0" cy="497.5" r="1.4" fill="#787878" opacity="0.53"/>
<circle cx="823.2" cy="502.8" r="1.7" fill="#7a7a7a" opacity="0.40"/>
<circle cx="814.1" cy="461.2" r="2.4" fill="#696969" opacity="0.56"/>
<circle cx="795.2" cy="532.1" r="2.7" fill="#757575" opacity="0.36"/>
<circle cx="804.7" cy="486.5" r="1.4" fill="#303030" opacity="0.51"/>
<circle cx="817.9" cy="538.2" r="3.0" fill="#6c6c6c" opacity="0.49"/>
<circle cx="743.7" cy="510.8" r="2.0" fill="#8c8c8c" opacity="0.44"/>
<circle cx="826.4" cy="474.4" r="1.9" fill="#777777" opacity="0.39"/>
<circle cx="839.4" cy="507.7" r="2.3" fill="#878787" opacity="0.57"/>
<circle cx="723.6" cy="530.9" r="1.3" fill="#878787" opacity="0.42"/>
<circle cx="734.5" cy="553.5" r="2.4" fill="#797979" opacity="0.41"/>
<circle cx="821.5" cy="491.6" r="1.5" fill="#343434" opacity="0.50"/>
<circle cx="748.2" cy="472.2" r="2.7" fill="#6a6a6a" opacity="0.41"/>
<circle cx="724.1" cy="531.7" r="2.9" fill="#5c5c5c" opacity="0.41"/>
<circle cx="822.1" cy="492.0" r="2.2" fill="#666666" opacity="0.47"/>
<circle cx="845.6" cy="536.7" r="1.6" fill="#6b6b6b" opacity="0.43"/>
<circle cx="860.2" cy="510.9" r="1.5" fill="#717171" opacity="0.38"/>
<circle cx="801.3" cy="490.0" r="2.4" fill="#5e5e5e" opacity="0.60"/>
<circle cx="849.0" cy="478.1" r="2.3" fill="#6a6a6a" opacity="0.43"/>
<circle cx="828.3" cy="574.7" r="3.0" fill="#3a3a3a" opacity="0.31"/>
<circle cx="827.4" cy="454.3" r="2.2" fill="#434343" opacity="0.33"/>
<circle cx="822.1" cy="481.6" r="2.8" fill="#616161" opacity="0.36"/>
<circle cx="790.8" cy="451.1" r="1.4" fill="#414141" opacity="0.56"/>
<circle cx="837.9" cy="525.4" r="1.6" fill="#434343" opacity="0.43"/>
<circle cx="822.6" cy="508.9" r="2.7" fill="#4a4a4a" opacity="0.57"/>
<circle cx="733.6" cy="513.1" r="2.9" fill="#575757" opacity="0.36"/>
<circle cx="816.2" cy="483.3" r="2.0" fill="#8c8c8c" opacity="0.58"/>
<circle cx="796.8" cy="522.0" r="1.6" fill="#545454" opacity="0.47"/>
<circle cx="759.7" cy="457.3" r="1.7" fill="#8f8f8f" opacity="0.37"/>
<circle cx="743.4" cy="470.1" r="2.1" fill="#656565" opacity="0.49"/>
<circle cx="768.5" cy="491.6" r="1.6" fill="#464646" opacity="0.48"/>
<circle cx="795.0" cy="517.2" r="2.6" fill="#7d7d7d" opacity="0.53"/>
<circle cx="781.3" cy="468.9" r="2.8" fill="#5f5f5f" opacity="0.53"/>
<circle cx="787.5" cy="524.4" r="2.6" fill="#525252" opacity="0.50"/>
<circle cx="858.6" cy="494.5" r="1.3" fill="#828282" opacity="0.42"/>
<circle cx="811.2" cy="537.3" r="1.5" fill="#898989" opacity="0.49"/>
<circle cx="747.9" cy="558.3" r="1.4" fill="#4c4c4c" opacity="0.32"/>
<circle cx="851.5" cy="480.7" r="1.3" fill="#6d6d6d" opacity="0.49"/>
<circle cx="850.9" cy="484.3" r="1.2" fill="#484848" opacity="0.43"/>
<circle cx="804.2" cy="469.9" r="2.3" fill="#6b6b6b" opacity="0.40"/>
<circle cx="863.2" cy="526.7" r="1.8" fill="#404040" opacity="0.49"/>
<circle cx="733.1" cy="540.7" r="1.4" fill="#707070" opacity="0.42"/>
<circle cx="821.4" cy="509.4" r="2.4" fill="#585858" opacity="0.35"/>
<circle cx="799.6" cy="499.2" r="2.5" fill="#717171" opacity="0.57"/>
<circle cx="814.3" cy="569.0" r="1.4" fill="#686868" opacity="0.34"/>
<circle cx="782.5" cy="508.1" r="2.2" fill="#787878" opacity="0.49"/>
<circle cx="762.9" cy="500.1" r="2.2" fill="#6f6f6f" opacity="0.33"/>
</g>
</g>
<ellipse cx="794" cy="514" rx="85" ry="76.5" fill="none" stroke="#f8f8f8" stroke-width="6" opacity="0.55" filter="url(#bl3)"/>
<g filter="url(#mo1)">
<ellipse cx="802" cy="514" rx="19" ry="25" fill="#3a3a3a" opacity="0.75"/>
<path d="M772,472 Q788,488 798,500" stroke="#444" stroke-width="5" fill="none" opacity="0.7"/>
<circle cx="799.5" cy="502.5" r="7" fill="#555" stroke="#1e1e1e" stroke-width="7"/>
<circle cx="811" cy="516" r="6.5" fill="#555" stroke="#1e1e1e" stroke-width="7"/>
<circle cx="801" cy="527.5" r="7" fill="#555" stroke="#1e1e1e" stroke-width="7"/>
<ellipse cx="768.5" cy="460.5" rx="21" ry="13.5" fill="#202020" transform="rotate(-18 768.5 460.5)"/>
<ellipse cx="814" cy="452.5" rx="21" ry="13" fill="#202020" transform="rotate(8 814 452.5)"/>
<ellipse cx="851.5" cy="474" rx="19" ry="13.5" fill="#202020" transform="rotate(50 851.5 474)"/>
<ellipse cx="867" cy="515" rx="19.5" ry="12.5" fill="#202020" transform="rotate(88 867 515)"/>
<ellipse cx="849.6" cy="553" rx="19.5" ry="13.5" fill="#202020" transform="rotate(130 849.6 553)"/>
<ellipse cx="805.5" cy="574" rx="21.5" ry="13" fill="#202020" transform="rotate(175 805.5 574)"/>
<ellipse cx="757" cy="567" rx="21.5" ry="14" fill="#202020" transform="rotate(205 757 567)"/>
<ellipse cx="731.5" cy="538" rx="19.5" ry="13.5" fill="#202020" transform="rotate(245 731.5 538)"/>
<ellipse cx="736" cy="490" rx="19.5" ry="14" fill="#202020" transform="rotate(290 736 490)"/>
</g>
<g filter="url(#bl1)">
<circle cx="800" cy="503" r="2.4" fill="#999"/>
<circle cx="810.5" cy="515" r="2.2" fill="#999"/>
<circle cx="802" cy="527" r="2.4" fill="#999"/>
<circle cx="759.8" cy="462.3" r="3.4" fill="#a4a4a4"/>
<circle cx="775.8" cy="459.2" r="3" fill="#989898"/>
<circle cx="805.4" cy="450.3" r="3.4" fill="#a4a4a4"/>
<circle cx="821.1" cy="454.5" r="3" fill="#989898"/>
<circle cx="847.1" cy="467.2" r="3.4" fill="#a4a4a4"/>
<circle cx="855.0" cy="479.7" r="3" fill="#989898"/>
<circle cx="867.7" cy="506.8" r="3.4" fill="#a4a4a4"/>
<circle cx="866.2" cy="521.9" r="3" fill="#989898"/>
<circle cx="855.6" cy="547.4" r="3.4" fill="#a4a4a4"/>
<circle cx="844.4" cy="557.6" r="3" fill="#989898"/>
<circle cx="814.6" cy="574.2" r="3.4" fill="#a4a4a4"/>
<circle cx="797.9" cy="573.7" r="3" fill="#989898"/>
<circle cx="764.8" cy="571.7" r="3.4" fill="#a4a4a4"/>
<circle cx="750.6" cy="562.9" r="3" fill="#989898"/>
<circle cx="734.1" cy="545.8" r="3.4" fill="#a4a4a4"/>
<circle cx="729.5" cy="531.4" r="3" fill="#989898"/>
<circle cx="732.3" cy="497.4" r="3.4" fill="#a4a4a4"/>
<circle cx="739.3" cy="483.9" r="3" fill="#989898"/>
</g>
<ellipse cx="794" cy="514" rx="94" ry="85.5" fill="none" stroke="#2c2c2c" stroke-width="7.5" filter="url(#mo2)"/>
</g>
<g id="em2">
<ellipse cx="790.8" cy="731.8" rx="98.5" ry="84.5" fill="#a2a2a2"/>
<g clip-path="url(#clip2)">
<g filter="url(#blob)">
<circle cx="815.4" cy="773.4" r="6.8" fill="#f6f6f6" opacity="0.82"/>
<circle cx="696.6" cy="725.9" r="3.7" fill="#f0f0f0" opacity="0.51"/>
<circle cx="765.2" cy="795.2" r="6.1" fill="#dfdfdf" opacity="0.46"/>
<circle cx="843.9" cy="673.3" r="6.3" fill="#e0e0e0" opacity="0.63"/>
<circle cx="724.1" cy="699.7" r="4.3" fill="#6d6d6d" opacity="0.84"/>
<circle cx="773.8" cy="806.8" r="4.9" fill="#757575" opacity="0.69"/>
<circle cx="758.4" cy="699.1" r="6.6" fill="#ebebeb" opacity="0.52"/>
<circle cx="785.3" cy="676.1" r="7.8" fill="#616161" opacity="0.59"/>
<circle cx="766.1" cy="790.5" r="4.3" fill="#f2f2f2" opacity="0.83"/>
<circle cx="730.1" cy="775.8" r="5.0" fill="#eaeaea" opacity="0.59"/>
<circle cx="795.7" cy="779.2" r="7.4" fill="#777777" opacity="0.46"/>
<circle cx="758.9" cy="750.9" r="4.7" fill="#e6e6e6" opacity="0.73"/>
<circle cx="709.2" cy="763.8" r="3.9" fill="#f5f5f5" opacity="0.51"/>
<circle cx="772.0" cy="686.6" r="4.6" fill="#f6f6f6" opacity="0.71"/>
<circle cx="818.5" cy="783.7" r="4.1" fill="#e2e2e2" opacity="0.74"/>
<circle cx="880.8" cy="754.2" r="4.3" fill="#dfdfdf" opacity="0.60"/>
<circle cx="702.6" cy="718.2" r="7.9" fill="#6a6a6a" opacity="0.63"/>
<circle cx="788.4" cy="771.3" r="5.6" fill="#e5e5e5" opacity="0.81"/>
<circle cx="797.2" cy="676.7" r="4.3" fill="#e6e6e6" opacity="0.65"/>
<circle cx="761.9" cy="746.8" r="5.1" fill="#737373" opacity="0.73"/>
<circle cx="747.0" cy="729.3" r="6.7" fill="#f2f2f2" opacity="0.83"/>
<circle cx="785.7" cy="778.9" r="5.6" fill="#e4e4e4" opacity="0.78"/>
<circle cx="820.3" cy="783.0" r="5.1" fill="#f0f0f0" opacity="0.83"/>
<circle cx="772.5" cy="804.4" r="7.9" fill="#7c7c7c" opacity="0.83"/>
<circle cx="794.4" cy="736.8" r="7.7" fill="#777777" opacity="0.64"/>
<circle cx="725.2" cy="780.0" r="7.7" fill="#f1f1f1" opacity="0.57"/>
<circle cx="801.4" cy="794.9" r="4.4" fill="#616161" opacity="0.68"/>
<circle cx="726.9" cy="769.4" r="4.2" fill="#e3e3e3" opacity="0.81"/>
<circle cx="787.3" cy="740.1" r="5.2" fill="#e7e7e7" opacity="0.69"/>
<circle cx="808.8" cy="686.7" r="5.1" fill="#dcdcdc" opacity="0.83"/>
<circle cx="828.6" cy="739.9" r="6.3" fill="#ededed" opacity="0.49"/>
<circle cx="799.8" cy="704.2" r="7.2" fill="#e7e7e7" opacity="0.62"/>
<circle cx="853.4" cy="756.3" r="4.2" fill="#e0e0e0" opacity="0.60"/>
<circle cx="786.2" cy="680.1" r="5.1" fill="#656565" opacity="0.81"/>
<circle cx="804.0" cy="751.6" r="5.4" fill="#787878" opacity="0.84"/>
<circle cx="767.6" cy="792.9" r="6.8" fill="#707070" opacity="0.57"/>
<circle cx="739.5" cy="727.4" r="4.7" fill="#7f7f7f" opacity="0.51"/>
<circle cx="811.6" cy="773.7" r="4.9" fill="#686868" opacity="0.66"/>
<circle cx="758.0" cy="696.9" r="5.1" fill="#eaeaea" opacity="0.72"/>
<circle cx="853.3" cy="668.6" r="6.6" fill="#7d7d7d" opacity="0.49"/>
<circle cx="881.5" cy="757.4" r="5.2" fill="#f6f6f6" opacity="0.61"/>
<circle cx="861.2" cy="679.6" r="4.9" fill="#646464" opacity="0.45"/>
<circle cx="846.6" cy="745.9" r="7.6" fill="#ebebeb" opacity="0.51"/>
<circle cx="734.6" cy="756.9" r="7.5" fill="#f2f2f2" opacity="0.85"/>
<circle cx="832.0" cy="721.1" r="5.4" fill="#6b6b6b" opacity="0.51"/>
<circle cx="815.3" cy="653.3" r="6.9" fill="#787878" opacity="0.56"/>
<circle cx="709.1" cy="763.7" r="7.7" fill="#e7e7e7" opacity="0.60"/>
<circle cx="743.4" cy="740.7" r="5.8" fill="#727272" opacity="0.50"/>
<circle cx="737.7" cy="709.6" r="4.1" fill="#e1e1e1" opacity="0.46"/>
<circle cx="759.1" cy="744.4" r="5.8" fill="#676767" opacity="0.63"/>
<circle cx="767.7" cy="791.7" r="6.6" fill="#e9e9e9" opacity="0.54"/>
<circle cx="823.8" cy="786.9" r="5.1" fill="#787878" opacity="0.54"/>
<circle cx="757.5" cy="751.4" r="5.2" fill="#e8e8e8" opacity="0.74"/>
<circle cx="762.5" cy="696.7" r="5.8" fill="#e7e7e7" opacity="0.69"/>
<circle cx="805.5" cy="773.1" r="3.7" fill="#dfdfdf" opacity="0.52"/>
<circle cx="729.9" cy="730.1" r="6.9" fill="#f1f1f1" opacity="0.45"/>
<circle cx="776.5" cy="725.9" r="6.4" fill="#696969" opacity="0.48"/>
<circle cx="784.7" cy="740.8" r="6.9" fill="#6a6a6a" opacity="0.72"/>
<circle cx="759.7" cy="775.1" r="6.6" fill="#dddddd" opacity="0.72"/>
<circle cx="785.1" cy="808.4" r="4.8" fill="#747474" opacity="0.72"/>
<circle cx="836.7" cy="673.9" r="6.1" fill="#616161" opacity="0.71"/>
<circle cx="814.3" cy="802.6" r="4.9" fill="#f1f1f1" opacity="0.64"/>
<circle cx="878.9" cy="756.9" r="3.5" fill="#e4e4e4" opacity="0.47"/>
<circle cx="846.7" cy="716.3" r="7.7" fill="#767676" opacity="0.74"/>
<circle cx="738.2" cy="783.9" r="3.7" fill="#7e7e7e" opacity="0.55"/>
<circle cx="700.9" cy="714.1" r="7.3" fill="#707070" opacity="0.63"/>
<circle cx="818.9" cy="796.3" r="4.3" fill="#e2e2e2" opacity="0.65"/>
<circle cx="771.3" cy="737.2" r="7.1" fill="#747474" opacity="0.48"/>
<circle cx="705.9" cy="771.4" r="5.9" fill="#eaeaea" opacity="0.64"/>
<circle cx="805.1" cy="710.6" r="3.6" fill="#f3f3f3" opacity="0.75"/>
<circle cx="828.5" cy="799.1" r="4.0" fill="#ededed" opacity="0.57"/>
<circle cx="854.7" cy="699.6" r="5.6" fill="#656565" opacity="0.73"/>
<circle cx="824.1" cy="693.2" r="3.7" fill="#e3e3e3" opacity="0.53"/>
<circle cx="748.0" cy="710.1" r="7.0" fill="#7a7a7a" opacity="0.60"/>
<circle cx="719.5" cy="764.1" r="6.8" fill="#dcdcdc" opacity="0.73"/>
<circle cx="843.6" cy="741.6" r="7.9" fill="#636363" opacity="0.78"/>
<circle cx="778.0" cy="690.2" r="4.5" fill="#dcdcdc" opacity="0.62"/>
<circle cx="763.3" cy="702.6" r="6.8" fill="#6a6a6a" opacity="0.49"/>
<circle cx="796.9" cy="675.2" r="6.9" fill="#eaeaea" opacity="0.62"/>
<circle cx="776.7" cy="703.2" r="5.6" fill="#e3e3e3" opacity="0.62"/>
<circle cx="779.1" cy="777.8" r="5.6" fill="#ededed" opacity="0.65"/>
<circle cx="860.9" cy="763.7" r="3.6" fill="#606060" opacity="0.68"/>
<circle cx="733.9" cy="693.5" r="6.9" fill="#767676" opacity="0.76"/>
<circle cx="764.1" cy="784.9" r="7.3" fill="#f1f1f1" opacity="0.79"/>
<circle cx="814.4" cy="714.7" r="5.7" fill="#6f6f6f" opacity="0.47"/>
<circle cx="834.3" cy="800.6" r="5.6" fill="#747474" opacity="0.64"/>
<circle cx="797.6" cy="661.5" r="4.0" fill="#606060" opacity="0.69"/>
<circle cx="815.0" cy="785.7" r="6.2" fill="#616161" opacity="0.66"/>
<circle cx="780.7" cy="781.3" r="6.0" fill="#f2f2f2" opacity="0.47"/>
<circle cx="720.1" cy="717.5" r="6.6" fill="#dcdcdc" opacity="0.66"/>
<circle cx="747.6" cy="659.2" r="6.2" fill="#767676" opacity="0.80"/>
<circle cx="879.0" cy="716.9" r="4.7" fill="#dcdcdc" opacity="0.74"/>
<circle cx="870.2" cy="764.1" r="6.2" fill="#f3f3f3" opacity="0.67"/>
<circle cx="787.4" cy="661.6" r="7.9" fill="#757575" opacity="0.67"/>
<circle cx="813.5" cy="712.3" r="4.6" fill="#777777" opacity="0.49"/>
<circle cx="706.1" cy="716.8" r="6.1" fill="#646464" opacity="0.70"/>
<circle cx="818.8" cy="739.7" r="5.4" fill="#e3e3e3" opacity="0.66"/>
<circle cx="871.7" cy="697.8" r="4.3" fill="#757575" opacity="0.46"/>
<circle cx="727.6" cy="678.5" r="7.0" fill="#f0f0f0" opacity="0.58"/>
<circle cx="718.3" cy="735.1" r="7.3" fill="#6c6c6c" opacity="0.71"/>
<circle cx="721.2" cy="751.7" r="6.8" fill="#7c7c7c" opacity="0.78"/>
<circle cx="851.5" cy="768.5" r="6.3" fill="#eeeeee" opacity="0.84"/>
<circle cx="839.4" cy="660.2" r="5.6" fill="#ededed" opacity="0.45"/>
<circle cx="767.0" cy="704.7" r="6.9" fill="#ebebeb" opacity="0.74"/>
<circle cx="761.6" cy="772.6" r="4.1" fill="#e8e8e8" opacity="0.81"/>
<circle cx="819.3" cy="777.6" r="4.8" fill="#676767" opacity="0.58"/>
<circle cx="860.4" cy="735.1" r="7.9" fill="#7a7a7a" opacity="0.56"/>
<circle cx="834.8" cy="670.9" r="5.6" fill="#ededed" opacity="0.84"/>
<circle cx="799.1" cy="712.2" r="5.5" fill="#dedede" opacity="0.50"/>
<circle cx="719.0" cy="785.2" r="7.8" fill="#7d7d7d" opacity="0.80"/>
<circle cx="729.6" cy="784.0" r="7.8" fill="#656565" opacity="0.69"/>
<circle cx="858.6" cy="726.7" r="5.3" fill="#6a6a6a" opacity="0.76"/>
<circle cx="777.7" cy="747.9" r="6.3" fill="#f0f0f0" opacity="0.68"/>
<circle cx="733.9" cy="718.3" r="7.4" fill="#f5f5f5" opacity="0.78"/>
<circle cx="873.9" cy="710.9" r="4.2" fill="#f4f4f4" opacity="0.59"/>
<circle cx="751.4" cy="678.6" r="8.0" fill="#dedede" opacity="0.54"/>
<circle cx="775.1" cy="692.4" r="3.5" fill="#e5e5e5" opacity="0.70"/>
<circle cx="844.7" cy="776.2" r="3.7" fill="#787878" opacity="0.61"/>
<circle cx="789.6" cy="700.4" r="4.6" fill="#eaeaea" opacity="0.82"/>
<circle cx="727.8" cy="719.6" r="5.0" fill="#777777" opacity="0.54"/>
<circle cx="749.6" cy="800.0" r="3.9" fill="#ededed" opacity="0.49"/>
<circle cx="819.5" cy="710.3" r="6.0" fill="#ebebeb" opacity="0.63"/>
<circle cx="738.3" cy="760.2" r="7.0" fill="#606060" opacity="0.62"/>
<circle cx="791.6" cy="750.8" r="7.1" fill="#dddddd" opacity="0.55"/>
<circle cx="829.2" cy="797.9" r="4.8" fill="#ededed" opacity="0.63"/>
<circle cx="821.8" cy="804.9" r="4.7" fill="#ececec" opacity="0.68"/>
<circle cx="809.6" cy="713.0" r="6.2" fill="#e1e1e1" opacity="0.72"/>
<circle cx="819.7" cy="655.3" r="3.9" fill="#787878" opacity="0.66"/>
<circle cx="782.0" cy="656.7" r="6.1" fill="#6d6d6d" opacity="0.47"/>
<circle cx="839.2" cy="665.9" r="7.9" fill="#e7e7e7" opacity="0.56"/>
<circle cx="768.5" cy="754.0" r="6.2" fill="#707070" opacity="0.80"/>
<circle cx="829.5" cy="750.9" r="3.7" fill="#f0f0f0" opacity="0.69"/>
<circle cx="714.3" cy="769.8" r="6.1" fill="#efefef" opacity="0.66"/>
<circle cx="830.0" cy="767.2" r="3.9" fill="#eeeeee" opacity="0.48"/>
<circle cx="782.9" cy="757.4" r="7.3" fill="#f3f3f3" opacity="0.83"/>
<circle cx="826.8" cy="692.8" r="4.7" fill="#e5e5e5" opacity="0.57"/>
<circle cx="721.9" cy="683.0" r="5.6" fill="#6d6d6d" opacity="0.51"/>
<circle cx="738.8" cy="674.7" r="7.3" fill="#e4e4e4" opacity="0.57"/>
<circle cx="712.4" cy="690.4" r="4.7" fill="#ececec" opacity="0.70"/>
<circle cx="818.9" cy="810.3" r="5.0" fill="#676767" opacity="0.49"/>
<circle cx="817.2" cy="791.0" r="7.0" fill="#dddddd" opacity="0.67"/>
<circle cx="867.3" cy="699.5" r="5.3" fill="#757575" opacity="0.80"/>
<circle cx="703.3" cy="697.6" r="7.1" fill="#666666" opacity="0.81"/>
<circle cx="792.1" cy="663.7" r="5.4" fill="#e3e3e3" opacity="0.83"/>
<circle cx="799.0" cy="757.9" r="7.7" fill="#e6e6e6" opacity="0.83"/>
<circle cx="784.0" cy="663.5" r="6.3" fill="#dfdfdf" opacity="0.49"/>
<circle cx="821.7" cy="760.0" r="4.7" fill="#dfdfdf" opacity="0.67"/>
<circle cx="885.4" cy="719.4" r="7.9" fill="#808080" opacity="0.50"/>
<circle cx="822.1" cy="676.9" r="4.1" fill="#646464" opacity="0.47"/>
<circle cx="878.6" cy="726.0" r="6.1" fill="#f5f5f5" opacity="0.65"/>
<circle cx="747.6" cy="773.8" r="5.3" fill="#7e7e7e" opacity="0.73"/>
<circle cx="779.8" cy="686.0" r="6.7" fill="#656565" opacity="0.55"/>
<circle cx="783.6" cy="762.2" r="4.0" fill="#ebebeb" opacity="0.68"/>
<circle cx="741.2" cy="707.1" r="4.4" fill="#676767" opacity="0.46"/>
<circle cx="811.9" cy="655.8" r="4.8" fill="#7a7a7a" opacity="0.60"/>
<circle cx="845.4" cy="695.7" r="3.5" fill="#626262" opacity="0.83"/>
<circle cx="775.0" cy="789.9" r="7.6" fill="#e6e6e6" opacity="0.66"/>
<circle cx="756.4" cy="764.3" r="4.2" fill="#dcdcdc" opacity="0.65"/>
<circle cx="845.1" cy="789.8" r="5.7" fill="#606060" opacity="0.50"/>
<circle cx="861.3" cy="686.8" r="4.0" fill="#f0f0f0" opacity="0.62"/>
</g>
<g filter="url(#bl2)">
<circle cx="863.5" cy="756.8" r="1.5" fill="#707070" opacity="0.31"/>
<circle cx="765.4" cy="745.9" r="2.2" fill="#808080" opacity="0.34"/>
<circle cx="810.2" cy="776.1" r="2.3" fill="#d8d8d8" opacity="0.43"/>
<circle cx="869.2" cy="737.1" r="1.4" fill="#707070" opacity="0.26"/>
<circle cx="712.1" cy="724.6" r="2.5" fill="#d8d8d8" opacity="0.37"/>
<circle cx="748.6" cy="658.6" r="2.4" fill="#d8d8d8" opacity="0.40"/>
<circle cx="834.0" cy="792.2" r="1.2" fill="#808080" opacity="0.47"/>
<circle cx="704.0" cy="704.3" r="1.9" fill="#707070" opacity="0.47"/>
<circle cx="725.2" cy="713.8" r="1.8" fill="#707070" opacity="0.33"/>
<circle cx="836.6" cy="712.7" r="2.3" fill="#808080" opacity="0.28"/>
<circle cx="767.6" cy="678.1" r="1.8" fill="#808080" opacity="0.36"/>
<circle cx="772.5" cy="650.3" r="1.9" fill="#d8d8d8" opacity="0.30"/>
<circle cx="828.3" cy="790.0" r="2.3" fill="#c8c8c8" opacity="0.47"/>
<circle cx="774.0" cy="759.3" r="2.2" fill="#d8d8d8" opacity="0.30"/>
<circle cx="807.2" cy="769.0" r="1.5" fill="#707070" opacity="0.38"/>
<circle cx="858.9" cy="708.7" r="2.2" fill="#707070" opacity="0.36"/>
<circle cx="853.9" cy="753.7" r="1.2" fill="#808080" opacity="0.29"/>
<circle cx="775.9" cy="663.8" r="2.2" fill="#707070" opacity="0.37"/>
<circle cx="836.1" cy="798.1" r="1.4" fill="#d8d8d8" opacity="0.25"/>
<circle cx="702.5" cy="749.3" r="1.6" fill="#d8d8d8" opacity="0.39"/>
<circle cx="868.0" cy="702.4" r="1.4" fill="#d8d8d8" opacity="0.36"/>
<circle cx="778.9" cy="787.3" r="1.9" fill="#808080" opacity="0.28"/>
<circle cx="793.6" cy="779.4" r="1.5" fill="#d8d8d8" opacity="0.42"/>
<circle cx="809.7" cy="662.0" r="1.8" fill="#c8c8c8" opacity="0.33"/>
<circle cx="862.1" cy="779.7" r="2.1" fill="#c8c8c8" opacity="0.44"/>
<circle cx="843.7" cy="795.6" r="1.3" fill="#707070" opacity="0.38"/>
<circle cx="784.7" cy="722.0" r="1.8" fill="#808080" opacity="0.40"/>
<circle cx="805.3" cy="812.6" r="2.4" fill="#808080" opacity="0.46"/>
<circle cx="808.8" cy="658.3" r="1.6" fill="#d8d8d8" opacity="0.27"/>
<circle cx="760.0" cy="808.3" r="2.6" fill="#707070" opacity="0.47"/>
<circle cx="762.0" cy="663.7" r="1.3" fill="#c8c8c8" opacity="0.47"/>
<circle cx="756.4" cy="763.8" r="2.2" fill="#d8d8d8" opacity="0.48"/>
<circle cx="809.8" cy="798.8" r="1.6" fill="#c8c8c8" opacity="0.46"/>
<circle cx="791.3" cy="705.4" r="2.4" fill="#707070" opacity="0.39"/>
<circle cx="781.1" cy="758.8" r="2.5" fill="#d8d8d8" opacity="0.28"/>
<circle cx="703.5" cy="701.3" r="1.6" fill="#707070" opacity="0.34"/>
<circle cx="811.5" cy="747.4" r="1.2" fill="#808080" opacity="0.29"/>
<circle cx="751.9" cy="743.5" r="1.3" fill="#707070" opacity="0.27"/>
<circle cx="816.1" cy="694.7" r="1.2" fill="#808080" opacity="0.36"/>
<circle cx="723.1" cy="702.9" r="2.4" fill="#d8d8d8" opacity="0.40"/>
<circle cx="860.3" cy="676.3" r="2.6" fill="#d8d8d8" opacity="0.46"/>
<circle cx="708.5" cy="721.1" r="1.7" fill="#c8c8c8" opacity="0.45"/>
<circle cx="768.8" cy="793.2" r="1.4" fill="#c8c8c8" opacity="0.44"/>
<circle cx="836.2" cy="724.5" r="1.5" fill="#c8c8c8" opacity="0.50"/>
<circle cx="753.9" cy="679.3" r="1.8" fill="#808080" opacity="0.40"/>
<circle cx="781.7" cy="695.1" r="1.5" fill="#707070" opacity="0.30"/>
<circle cx="772.0" cy="764.7" r="2.5" fill="#707070" opacity="0.44"/>
<circle cx="752.1" cy="704.1" r="1.4" fill="#c8c8c8" opacity="0.48"/>
<circle cx="699.9" cy="731.7" r="1.9" fill="#c8c8c8" opacity="0.30"/>
<circle cx="756.8" cy="699.9" r="1.8" fill="#c8c8c8" opacity="0.26"/>
<circle cx="838.8" cy="804.1" r="2.3" fill="#c8c8c8" opacity="0.31"/>
<circle cx="724.6" cy="692.2" r="1.7" fill="#707070" opacity="0.31"/>
<circle cx="844.2" cy="726.6" r="2.4" fill="#808080" opacity="0.43"/>
<circle cx="837.1" cy="802.6" r="1.7" fill="#808080" opacity="0.39"/>
<circle cx="742.8" cy="724.5" r="2.2" fill="#707070" opacity="0.48"/>
<circle cx="754.8" cy="687.3" r="1.2" fill="#d8d8d8" opacity="0.42"/>
<circle cx="795.2" cy="706.6" r="2.1" fill="#c8c8c8" opacity="0.46"/>
<circle cx="848.9" cy="696.6" r="2.2" fill="#808080" opacity="0.40"/>
<circle cx="803.6" cy="661.1" r="1.5" fill="#808080" opacity="0.42"/>
<circle cx="807.7" cy="694.3" r="1.5" fill="#808080" opacity="0.48"/>
<circle cx="714.6" cy="747.6" r="1.5" fill="#d8d8d8" opacity="0.36"/>
<circle cx="752.0" cy="689.5" r="2.0" fill="#808080" opacity="0.45"/>
<circle cx="820.8" cy="762.1" r="2.0" fill="#c8c8c8" opacity="0.49"/>
<circle cx="722.7" cy="781.1" r="1.6" fill="#d8d8d8" opacity="0.37"/>
<circle cx="811.0" cy="756.7" r="1.5" fill="#808080" opacity="0.39"/>
<circle cx="817.0" cy="773.3" r="2.5" fill="#707070" opacity="0.30"/>
<circle cx="800.1" cy="679.9" r="1.6" fill="#808080" opacity="0.46"/>
<circle cx="744.9" cy="755.8" r="2.2" fill="#c8c8c8" opacity="0.41"/>
<circle cx="747.0" cy="799.7" r="2.3" fill="#d8d8d8" opacity="0.27"/>
<circle cx="772.0" cy="799.1" r="2.5" fill="#d8d8d8" opacity="0.27"/>
<circle cx="810.4" cy="680.4" r="1.7" fill="#c8c8c8" opacity="0.42"/>
<circle cx="764.4" cy="751.8" r="2.5" fill="#808080" opacity="0.43"/>
<circle cx="832.7" cy="766.9" r="2.0" fill="#808080" opacity="0.45"/>
<circle cx="822.8" cy="694.5" r="1.8" fill="#808080" opacity="0.37"/>
<circle cx="860.9" cy="676.1" r="1.9" fill="#d8d8d8" opacity="0.37"/>
<circle cx="817.1" cy="686.8" r="1.7" fill="#808080" opacity="0.43"/>
<circle cx="846.2" cy="757.9" r="2.4" fill="#707070" opacity="0.29"/>
<circle cx="788.1" cy="751.7" r="2.5" fill="#808080" opacity="0.45"/>
<circle cx="776.1" cy="802.9" r="2.3" fill="#707070" opacity="0.33"/>
<circle cx="844.8" cy="737.3" r="2.2" fill="#c8c8c8" opacity="0.49"/>
<circle cx="789.5" cy="730.7" r="1.3" fill="#c8c8c8" opacity="0.49"/>
<circle cx="754.5" cy="731.7" r="1.5" fill="#707070" opacity="0.39"/>
<circle cx="736.8" cy="760.9" r="2.1" fill="#d8d8d8" opacity="0.39"/>
<circle cx="870.1" cy="727.8" r="1.8" fill="#c8c8c8" opacity="0.30"/>
<circle cx="778.0" cy="699.9" r="1.5" fill="#808080" opacity="0.32"/>
<circle cx="711.7" cy="741.9" r="1.4" fill="#c8c8c8" opacity="0.38"/>
<circle cx="744.6" cy="670.6" r="1.3" fill="#707070" opacity="0.33"/>
<circle cx="735.1" cy="701.9" r="1.3" fill="#808080" opacity="0.47"/>
<circle cx="834.1" cy="772.6" r="1.2" fill="#707070" opacity="0.33"/>
<circle cx="783.9" cy="802.2" r="1.7" fill="#808080" opacity="0.49"/>
<circle cx="864.0" cy="693.6" r="1.8" fill="#d8d8d8" opacity="0.38"/>
<circle cx="781.5" cy="699.2" r="1.3" fill="#d8d8d8" opacity="0.38"/>
<circle cx="712.8" cy="746.1" r="1.9" fill="#d8d8d8" opacity="0.42"/>
<circle cx="825.2" cy="735.5" r="1.5" fill="#c8c8c8" opacity="0.43"/>
<circle cx="773.5" cy="811.0" r="1.7" fill="#d8d8d8" opacity="0.31"/>
<circle cx="753.5" cy="730.6" r="1.5" fill="#808080" opacity="0.37"/>
<circle cx="741.4" cy="691.6" r="2.6" fill="#c8c8c8" opacity="0.36"/>
<circle cx="825.1" cy="726.3" r="2.1" fill="#707070" opacity="0.26"/>
<circle cx="776.0" cy="789.7" r="1.5" fill="#808080" opacity="0.31"/>
<circle cx="703.5" cy="735.6" r="1.5" fill="#808080" opacity="0.49"/>
<circle cx="805.5" cy="794.4" r="2.5" fill="#d8d8d8" opacity="0.47"/>
<circle cx="787.3" cy="798.2" r="1.3" fill="#c8c8c8" opacity="0.37"/>
<circle cx="824.4" cy="707.7" r="1.3" fill="#808080" opacity="0.32"/>
<circle cx="821.9" cy="802.1" r="2.2" fill="#707070" opacity="0.34"/>
<circle cx="847.9" cy="792.0" r="1.9" fill="#d8d8d8" opacity="0.34"/>
<circle cx="744.2" cy="716.7" r="2.0" fill="#808080" opacity="0.44"/>
<circle cx="730.1" cy="773.0" r="2.1" fill="#d8d8d8" opacity="0.28"/>
<circle cx="769.8" cy="742.8" r="2.5" fill="#d8d8d8" opacity="0.49"/>
<circle cx="760.5" cy="716.7" r="2.4" fill="#c8c8c8" opacity="0.33"/>
<circle cx="756.3" cy="685.5" r="2.3" fill="#707070" opacity="0.33"/>
<circle cx="708.2" cy="731.3" r="1.3" fill="#c8c8c8" opacity="0.29"/>
<circle cx="756.5" cy="765.8" r="1.9" fill="#808080" opacity="0.49"/>
<circle cx="778.5" cy="782.0" r="2.3" fill="#707070" opacity="0.43"/>
<circle cx="729.5" cy="717.5" r="1.9" fill="#808080" opacity="0.43"/>
<circle cx="805.6" cy="766.1" r="2.4" fill="#707070" opacity="0.47"/>
<circle cx="802.7" cy="807.9" r="2.2" fill="#707070" opacity="0.30"/>
<circle cx="807.0" cy="756.6" r="2.2" fill="#c8c8c8" opacity="0.30"/>
<circle cx="769.8" cy="673.5" r="1.6" fill="#d8d8d8" opacity="0.40"/>
<circle cx="838.2" cy="701.2" r="1.6" fill="#c8c8c8" opacity="0.26"/>
<circle cx="747.7" cy="714.0" r="1.6" fill="#808080" opacity="0.27"/>
<circle cx="712.6" cy="745.9" r="2.6" fill="#d8d8d8" opacity="0.41"/>
<circle cx="790.1" cy="718.3" r="2.0" fill="#d8d8d8" opacity="0.33"/>
<circle cx="822.2" cy="690.0" r="2.0" fill="#808080" opacity="0.39"/>
<circle cx="837.0" cy="705.9" r="2.1" fill="#808080" opacity="0.40"/>
<circle cx="712.7" cy="722.8" r="1.5" fill="#707070" opacity="0.42"/>
<circle cx="830.1" cy="692.8" r="1.3" fill="#707070" opacity="0.38"/>
<circle cx="732.7" cy="749.8" r="2.0" fill="#808080" opacity="0.47"/>
<circle cx="791.6" cy="731.2" r="1.5" fill="#707070" opacity="0.39"/>
<circle cx="812.3" cy="802.2" r="1.2" fill="#d8d8d8" opacity="0.28"/>
<circle cx="863.4" cy="754.3" r="2.2" fill="#808080" opacity="0.35"/>
<circle cx="762.6" cy="763.9" r="1.9" fill="#d8d8d8" opacity="0.45"/>
<circle cx="756.1" cy="706.2" r="1.4" fill="#d8d8d8" opacity="0.43"/>
<circle cx="825.0" cy="769.5" r="2.5" fill="#d8d8d8" opacity="0.33"/>
<circle cx="823.7" cy="756.2" r="1.7" fill="#707070" opacity="0.35"/>
<circle cx="715.7" cy="763.4" r="2.1" fill="#707070" opacity="0.38"/>
<circle cx="874.9" cy="721.0" r="1.7" fill="#c8c8c8" opacity="0.40"/>
<circle cx="707.6" cy="759.7" r="1.6" fill="#c8c8c8" opacity="0.43"/>
<circle cx="871.8" cy="747.8" r="2.4" fill="#808080" opacity="0.33"/>
<circle cx="716.2" cy="749.4" r="1.5" fill="#707070" opacity="0.41"/>
<circle cx="765.6" cy="690.1" r="1.9" fill="#d8d8d8" opacity="0.36"/>
<circle cx="725.6" cy="784.5" r="2.3" fill="#707070" opacity="0.39"/>
<circle cx="818.4" cy="742.8" r="2.4" fill="#707070" opacity="0.37"/>
<circle cx="798.2" cy="686.5" r="2.4" fill="#d8d8d8" opacity="0.43"/>
<circle cx="766.0" cy="665.4" r="2.2" fill="#707070" opacity="0.37"/>
<circle cx="745.0" cy="708.4" r="2.0" fill="#d8d8d8" opacity="0.31"/>
<circle cx="809.1" cy="753.3" r="2.2" fill="#707070" opacity="0.32"/>
<circle cx="809.7" cy="680.9" r="1.2" fill="#808080" opacity="0.44"/>
<circle cx="767.6" cy="796.0" r="1.7" fill="#808080" opacity="0.28"/>
<circle cx="763.2" cy="789.6" r="1.5" fill="#c8c8c8" opacity="0.36"/>
<circle cx="724.2" cy="688.7" r="1.3" fill="#c8c8c8" opacity="0.49"/>
<circle cx="880.3" cy="740.3" r="2.3" fill="#c8c8c8" opacity="0.49"/>
<circle cx="838.5" cy="708.0" r="2.4" fill="#707070" opacity="0.49"/>
<circle cx="876.6" cy="727.0" r="1.8" fill="#808080" opacity="0.39"/>
<circle cx="742.5" cy="776.1" r="2.1" fill="#c8c8c8" opacity="0.30"/>
<circle cx="822.4" cy="808.4" r="1.6" fill="#707070" opacity="0.35"/>
<circle cx="764.9" cy="746.0" r="2.2" fill="#707070" opacity="0.43"/>
<circle cx="806.2" cy="701.4" r="2.6" fill="#707070" opacity="0.45"/>
<circle cx="782.8" cy="731.0" r="2.0" fill="#707070" opacity="0.33"/>
<circle cx="823.6" cy="729.8" r="2.6" fill="#808080" opacity="0.50"/>
<circle cx="705.4" cy="704.1" r="2.0" fill="#c8c8c8" opacity="0.31"/>
<circle cx="710.9" cy="688.8" r="1.6" fill="#808080" opacity="0.49"/>
<circle cx="765.1" cy="658.1" r="2.2" fill="#c8c8c8" opacity="0.43"/>
<circle cx="744.3" cy="718.5" r="1.6" fill="#d8d8d8" opacity="0.50"/>
<circle cx="779.3" cy="687.9" r="1.4" fill="#707070" opacity="0.49"/>
<circle cx="764.4" cy="789.5" r="1.6" fill="#808080" opacity="0.29"/>
<circle cx="761.2" cy="788.1" r="2.1" fill="#d8d8d8" opacity="0.32"/>
<circle cx="759.6" cy="733.1" r="2.1" fill="#808080" opacity="0.45"/>
<circle cx="828.2" cy="754.5" r="1.4" fill="#d8d8d8" opacity="0.47"/>
<circle cx="821.5" cy="733.6" r="1.8" fill="#707070" opacity="0.46"/>
<circle cx="819.1" cy="702.4" r="2.5" fill="#808080" opacity="0.36"/>
<circle cx="710.7" cy="778.8" r="2.4" fill="#c8c8c8" opacity="0.34"/>
<circle cx="798.4" cy="742.5" r="1.5" fill="#c8c8c8" opacity="0.31"/>
<circle cx="827.0" cy="690.5" r="2.1" fill="#d8d8d8" opacity="0.43"/>
<circle cx="796.2" cy="794.8" r="2.2" fill="#808080" opacity="0.34"/>
<circle cx="729.8" cy="779.3" r="2.4" fill="#808080" opacity="0.49"/>
<circle cx="813.9" cy="778.9" r="1.4" fill="#707070" opacity="0.36"/>
<circle cx="831.9" cy="672.1" r="2.2" fill="#707070" opacity="0.36"/>
<circle cx="757.5" cy="673.2" r="2.3" fill="#808080" opacity="0.43"/>
<circle cx="778.8" cy="754.5" r="1.9" fill="#c8c8c8" opacity="0.27"/>
<circle cx="832.7" cy="806.7" r="1.3" fill="#808080" opacity="0.27"/>
<circle cx="742.8" cy="794.6" r="1.5" fill="#808080" opacity="0.44"/>
<circle cx="847.1" cy="770.7" r="2.3" fill="#d8d8d8" opacity="0.27"/>
<circle cx="860.9" cy="698.7" r="1.9" fill="#808080" opacity="0.49"/>
<circle cx="851.1" cy="669.1" r="1.7" fill="#c8c8c8" opacity="0.47"/>
<circle cx="815.8" cy="711.3" r="1.3" fill="#d8d8d8" opacity="0.39"/>
<circle cx="811.1" cy="787.1" r="1.5" fill="#d8d8d8" opacity="0.45"/>
<circle cx="769.2" cy="677.2" r="2.0" fill="#c8c8c8" opacity="0.31"/>
<circle cx="869.5" cy="730.4" r="2.6" fill="#707070" opacity="0.33"/>
<circle cx="799.6" cy="739.8" r="1.4" fill="#c8c8c8" opacity="0.32"/>
<circle cx="836.7" cy="707.2" r="2.2" fill="#c8c8c8" opacity="0.40"/>
<circle cx="764.5" cy="761.2" r="1.4" fill="#d8d8d8" opacity="0.42"/>
<circle cx="806.4" cy="796.3" r="1.2" fill="#808080" opacity="0.33"/>
<circle cx="758.0" cy="779.2" r="2.4" fill="#c8c8c8" opacity="0.46"/>
<circle cx="739.7" cy="698.4" r="2.6" fill="#d8d8d8" opacity="0.38"/>
<circle cx="821.9" cy="762.0" r="2.2" fill="#808080" opacity="0.38"/>
<circle cx="776.6" cy="759.9" r="2.1" fill="#707070" opacity="0.32"/>
<circle cx="842.7" cy="704.1" r="1.5" fill="#d8d8d8" opacity="0.46"/>
<circle cx="694.3" cy="726.5" r="2.4" fill="#c8c8c8" opacity="0.38"/>
<circle cx="769.0" cy="795.7" r="1.6" fill="#808080" opacity="0.33"/>
<circle cx="778.9" cy="795.6" r="2.0" fill="#808080" opacity="0.27"/>
<circle cx="699.2" cy="748.5" r="1.8" fill="#d8d8d8" opacity="0.41"/>
<circle cx="793.4" cy="707.8" r="2.5" fill="#d8d8d8" opacity="0.45"/>
<circle cx="746.4" cy="796.7" r="1.5" fill="#808080" opacity="0.45"/>
<circle cx="792.3" cy="774.6" r="1.4" fill="#808080" opacity="0.46"/>
<circle cx="731.0" cy="669.6" r="2.4" fill="#c8c8c8" opacity="0.48"/>
<circle cx="861.5" cy="676.9" r="2.5" fill="#c8c8c8" opacity="0.47"/>
<circle cx="730.4" cy="721.1" r="1.5" fill="#808080" opacity="0.41"/>
<circle cx="810.1" cy="745.0" r="1.9" fill="#d8d8d8" opacity="0.42"/>
<circle cx="719.1" cy="770.6" r="1.9" fill="#c8c8c8" opacity="0.30"/>
<circle cx="755.8" cy="804.9" r="1.2" fill="#808080" opacity="0.41"/>
<circle cx="789.2" cy="724.2" r="2.1" fill="#c8c8c8" opacity="0.37"/>
<circle cx="847.2" cy="770.6" r="1.5" fill="#808080" opacity="0.37"/>
<circle cx="744.1" cy="681.0" r="1.5" fill="#808080" opacity="0.33"/>
<circle cx="728.0" cy="725.6" r="1.4" fill="#c8c8c8" opacity="0.41"/>
<circle cx="832.7" cy="706.8" r="1.4" fill="#d8d8d8" opacity="0.41"/>
<circle cx="847.1" cy="780.4" r="1.8" fill="#707070" opacity="0.31"/>
<circle cx="833.0" cy="777.0" r="2.5" fill="#808080" opacity="0.42"/>
<circle cx="803.3" cy="764.4" r="2.1" fill="#808080" opacity="0.36"/>
<circle cx="769.3" cy="812.7" r="1.4" fill="#d8d8d8" opacity="0.45"/>
<circle cx="819.3" cy="704.9" r="1.6" fill="#c8c8c8" opacity="0.44"/>
<circle cx="802.6" cy="746.4" r="1.9" fill="#707070" opacity="0.44"/>
<circle cx="800.2" cy="706.2" r="2.2" fill="#c8c8c8" opacity="0.28"/>
<circle cx="800.1" cy="705.2" r="2.5" fill="#d8d8d8" opacity="0.30"/>
<circle cx="791.6" cy="798.4" r="1.2" fill="#707070" opacity="0.27"/>
<circle cx="828.9" cy="707.3" r="1.8" fill="#c8c8c8" opacity="0.28"/>
<circle cx="776.6" cy="733.0" r="2.1" fill="#707070" opacity="0.41"/>
<circle cx="856.4" cy="771.0" r="1.7" fill="#d8d8d8" opacity="0.40"/>
<circle cx="762.0" cy="740.1" r="1.4" fill="#c8c8c8" opacity="0.36"/>
<circle cx="730.0" cy="793.9" r="1.6" fill="#d8d8d8" opacity="0.36"/>
<circle cx="814.7" cy="716.6" r="2.2" fill="#c8c8c8" opacity="0.38"/>
<circle cx="853.0" cy="733.0" r="2.3" fill="#808080" opacity="0.45"/>
<circle cx="729.3" cy="755.7" r="1.7" fill="#c8c8c8" opacity="0.49"/>
<circle cx="792.8" cy="709.1" r="2.0" fill="#d8d8d8" opacity="0.48"/>
<circle cx="828.8" cy="737.4" r="2.0" fill="#d8d8d8" opacity="0.32"/>
<circle cx="831.7" cy="759.1" r="1.2" fill="#c8c8c8" opacity="0.28"/>
<circle cx="782.9" cy="777.4" r="2.4" fill="#d8d8d8" opacity="0.45"/>
<circle cx="849.3" cy="678.4" r="2.2" fill="#c8c8c8" opacity="0.37"/>
<circle cx="771.0" cy="764.0" r="2.0" fill="#c8c8c8" opacity="0.43"/>
<circle cx="698.5" cy="745.5" r="2.4" fill="#d8d8d8" opacity="0.33"/>
<circle cx="699.1" cy="726.8" r="1.5" fill="#707070" opacity="0.48"/>
<circle cx="705.9" cy="755.2" r="2.2" fill="#c8c8c8" opacity="0.33"/>
<circle cx="836.0" cy="755.8" r="1.3" fill="#808080" opacity="0.39"/>
<circle cx="796.2" cy="759.6" r="2.4" fill="#707070" opacity="0.38"/>
<circle cx="807.8" cy="725.5" r="1.7" fill="#808080" opacity="0.45"/>
<circle cx="723.9" cy="778.1" r="1.8" fill="#d8d8d8" opacity="0.34"/>
<circle cx="739.0" cy="779.2" r="2.5" fill="#c8c8c8" opacity="0.30"/>
<circle cx="766.9" cy="751.9" r="2.6" fill="#d8d8d8" opacity="0.36"/>
<circle cx="842.2" cy="682.7" r="2.4" fill="#707070" opacity="0.36"/>
<circle cx="792.0" cy="789.2" r="1.8" fill="#d8d8d8" opacity="0.30"/>
<circle cx="837.1" cy="696.1" r="1.9" fill="#c8c8c8" opacity="0.33"/>
<circle cx="839.5" cy="762.2" r="2.3" fill="#d8d8d8" opacity="0.27"/>
<circle cx="712.9" cy="739.5" r="1.4" fill="#c8c8c8" opacity="0.39"/>
<circle cx="814.8" cy="752.9" r="1.8" fill="#707070" opacity="0.46"/>
<circle cx="752.1" cy="691.2" r="2.6" fill="#c8c8c8" opacity="0.47"/>
<circle cx="742.7" cy="768.6" r="1.4" fill="#d8d8d8" opacity="0.28"/>
<circle cx="871.5" cy="695.3" r="1.6" fill="#d8d8d8" opacity="0.47"/>
<circle cx="877.6" cy="743.9" r="2.5" fill="#707070" opacity="0.30"/>
<circle cx="746.4" cy="690.0" r="2.3" fill="#d8d8d8" opacity="0.39"/>
<circle cx="704.6" cy="766.1" r="1.8" fill="#707070" opacity="0.35"/>
<circle cx="845.5" cy="696.8" r="2.4" fill="#707070" opacity="0.26"/>
</g>
</g>
<ellipse cx="790.8" cy="731.8" rx="89" ry="75.5" fill="none" stroke="#e4e4e4" stroke-width="8" opacity="0.8" filter="url(#bl3)"/>
<g filter="url(#bl1)">
<circle cx="764.3" cy="669.4" r="16" fill="#6a6a6a" opacity="0.5"/>
<circle cx="816.05" cy="671.7" r="16" fill="#6a6a6a" opacity="0.5"/>
<circle cx="854.25" cy="700.9" r="16" fill="#6a6a6a" opacity="0.5"/>
<circle cx="863.45" cy="744.4" r="16" fill="#6a6a6a" opacity="0.5"/>
<circle cx="837.7" cy="781.7" r="16" fill="#6a6a6a" opacity="0.5"/>
<circle cx="791.65" cy="797.4" r="16" fill="#6a6a6a" opacity="0.5"/>
<circle cx="744.55" cy="780.6" r="16" fill="#6a6a6a" opacity="0.5"/>
<circle cx="718.65" cy="743.25" r="16" fill="#6a6a6a" opacity="0.5"/>
<circle cx="726.5" cy="698.3" r="16" fill="#6a6a6a" opacity="0.5"/>
</g>
<g filter="url(#mo3)">
<circle cx="757.1" cy="670" r="9.3" fill="#8c8c8c" stroke="#3a3a3a" stroke-width="7"/>
<circle cx="771.5" cy="668.8" r="8.9" fill="#909090" stroke="#3e3e3e" stroke-width="7"/>
<circle cx="810.3" cy="668.8" r="9.3" fill="#8c8c8c" stroke="#3a3a3a" stroke-width="7"/>
<circle cx="821.8" cy="674.6" r="8.9" fill="#909090" stroke="#3e3e3e" stroke-width="7"/>
<circle cx="852.1" cy="694.8" r="9.3" fill="#8c8c8c" stroke="#3a3a3a" stroke-width="7"/>
<circle cx="856.4" cy="707" r="8.9" fill="#909090" stroke="#3e3e3e" stroke-width="7"/>
<circle cx="865" cy="738" r="9.3" fill="#8c8c8c" stroke="#3a3a3a" stroke-width="7"/>
<circle cx="861.9" cy="750.8" r="8.9" fill="#909090" stroke="#3e3e3e" stroke-width="7"/>
<circle cx="843.7" cy="779.4" r="9.3" fill="#8c8c8c" stroke="#3a3a3a" stroke-width="7"/>
<circle cx="831.7" cy="784" r="8.9" fill="#909090" stroke="#3e3e3e" stroke-width="7"/>
<circle cx="799" cy="798" r="9.3" fill="#8c8c8c" stroke="#3a3a3a" stroke-width="7"/>
<circle cx="784.3" cy="796.8" r="8.9" fill="#909090" stroke="#3e3e3e" stroke-width="7"/>
<circle cx="749.3" cy="786" r="9.3" fill="#8c8c8c" stroke="#3a3a3a" stroke-width="7"/>
<circle cx="739.8" cy="775.2" r="8.9" fill="#909090" stroke="#3e3e3e" stroke-width="7"/>
<circle cx="719" cy="749" r="9.3" fill="#8c8c8c" stroke="#3a3a3a" stroke-width="7"/>
<circle cx="718.3" cy="737.5" r="8.9" fill="#909090" stroke="#3e3e3e" stroke-width="7"/>
<circle cx="722.3" cy="703.7" r="9.3" fill="#8c8c8c" stroke="#3a3a3a" stroke-width="7"/>
<circle cx="730.7" cy="692.9" r="8.9" fill="#909090" stroke="#3e3e3e" stroke-width="7"/>
<circle cx="774.9" cy="731" r="9" fill="#909090" stroke="#444" stroke-width="7"/>
<circle cx="802.5" cy="732.5" r="9" fill="#909090" stroke="#444" stroke-width="7"/>
</g>
<g filter="url(#bl2)">
<circle cx="757.1" cy="670" r="4.2" fill="#b8b8b8"/>
<circle cx="771.5" cy="668.8" r="3.8" fill="#b0b0b0"/>
<circle cx="757.1" cy="670" r="2" fill="#ececec"/>
<circle cx="771.5" cy="668.8" r="1.8" fill="#e4e4e4"/>
<circle cx="810.3" cy="668.8" r="4.2" fill="#b8b8b8"/>
<circle cx="821.8" cy="674.6" r="3.8" fill="#b0b0b0"/>
<circle cx="810.3" cy="668.8" r="2" fill="#ececec"/>
<circle cx="821.8" cy="674.6" r="1.8" fill="#e4e4e4"/>
<circle cx="852.1" cy="694.8" r="4.2" fill="#b8b8b8"/>
<circle cx="856.4" cy="707" r="3.8" fill="#b0b0b0"/>
<circle cx="852.1" cy="694.8" r="2" fill="#ececec"/>
<circle cx="856.4" cy="707" r="1.8" fill="#e4e4e4"/>
<circle cx="865" cy="738" r="4.2" fill="#b8b8b8"/>
<circle cx="861.9" cy="750.8" r="3.8" fill="#b0b0b0"/>
<circle cx="865" cy="738" r="2" fill="#ececec"/>
<circle cx="861.9" cy="750.8" r="1.8" fill="#e4e4e4"/>
<circle cx="843.7" cy="779.4" r="4.2" fill="#b8b8b8"/>
<circle cx="831.7" cy="784" r="3.8" fill="#b0b0b0"/>
<circle cx="843.7" cy="779.4" r="2" fill="#ececec"/>
<circle cx="831.7" cy="784" r="1.8" fill="#e4e4e4"/>
<circle cx="799" cy="798" r="4.2" fill="#b8b8b8"/>
<circle cx="784.3" cy="796.8" r="3.8" fill="#b0b0b0"/>
<circle cx="799" cy="798" r="2" fill="#ececec"/>
<circle cx="784.3" cy="796.8" r="1.8" fill="#e4e4e4"/>
<circle cx="749.3" cy="786" r="4.2" fill="#b8b8b8"/>
<circle cx="739.8" cy="775.2" r="3.8" fill="#b0b0b0"/>
<circle cx="749.3" cy="786" r="2" fill="#ececec"/>
<circle cx="739.8" cy="775.2" r="1.8" fill="#e4e4e4"/>
<circle cx="719" cy="749" r="4.2" fill="#b8b8b8"/>
<circle cx="718.3" cy="737.5" r="3.8" fill="#b0b0b0"/>
<circle cx="719" cy="749" r="2" fill="#ececec"/>
<circle cx="718.3" cy="737.5" r="1.8" fill="#e4e4e4"/>
<circle cx="722.3" cy="703.7" r="4.2" fill="#b8b8b8"/>
<circle cx="730.7" cy="692.9" r="3.8" fill="#b0b0b0"/>
<circle cx="722.3" cy="703.7" r="2" fill="#ececec"/>
<circle cx="730.7" cy="692.9" r="1.8" fill="#e4e4e4"/>
<circle cx="774.9" cy="731" r="4.2" fill="#b8b8b8"/><circle cx="774.9" cy="731" r="2" fill="#e8e8e8"/>
<circle cx="802.5" cy="732.5" r="4.2" fill="#b8b8b8"/><circle cx="802.5" cy="732.5" r="2" fill="#e8e8e8"/>
</g>
<ellipse cx="790.8" cy="731.8" rx="97.5" ry="83.5" fill="none" stroke="#555" stroke-width="9.5" filter="url(#mo4)"/>
</g>
<g fill="none" stroke="#5ae6e0" stroke-width="4.5" stroke-linecap="butt" stroke-linejoin="miter">
<path d="M875,490.5 L912,512.5 M891.5,489.5 H874.5 L881.5,503"/>
<path d="M830.5,798.5 L868.3,821.4 M846.8,799.7 H830 L837.3,812.7"/>
</g>
<rect x="809" y="713" width="5" height="50" fill="#f01414"/>
<path d="M803.3,751.3 L811.4,763.2 L819.5,751.3" fill="none" stroke="#f01414" stroke-width="5" stroke-miterlimit="6"/>
</svg>
</body></html>
